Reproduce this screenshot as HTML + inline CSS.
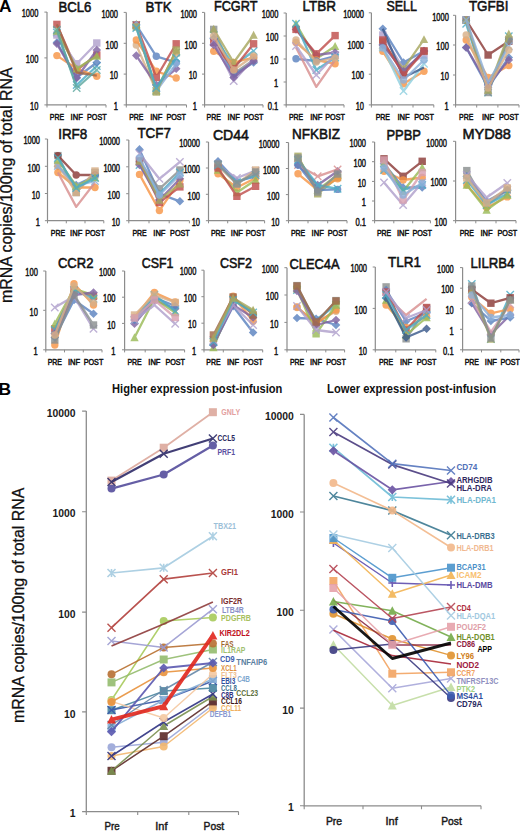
<!DOCTYPE html>
<html><head><meta charset="utf-8"><title>Figure</title><style>
html,body{margin:0;padding:0;background:#fff;}
body{width:520px;height:831px;overflow:hidden;}
svg{display:block;font-family:"Liberation Sans", sans-serif;}
</style></head><body>
<svg width="520" height="831" viewBox="0 0 520 831">
<defs><filter id="bl" filterUnits="userSpaceOnUse" x="0" y="0" width="520" height="831"><feGaussianBlur stdDeviation="0.65"/></filter></defs>
<rect width="520" height="831" fill="#fff"/>
<text x="-0.9" y="11.8" font-size="17.4" font-weight="bold" fill="#000">A</text>
<text x="-1.5" y="394.5" font-size="17.4" font-weight="bold" fill="#000">B</text>
<text transform="translate(12.3 303.0) rotate(-90)" font-size="15.6" fill="#111" stroke="#111" stroke-width="0.3" textLength="235.6" lengthAdjust="spacingAndGlyphs">mRNA copies/100ng of total RNA</text>
<text transform="translate(23.6 723.0) rotate(-90)" font-size="15.8" fill="#111" stroke="#111" stroke-width="0.3" textLength="235.4" lengthAdjust="spacingAndGlyphs">mRNA copies/100ng of total RNA</text>
<path d="M47.0 12.1V104.9H106.0" fill="none" stroke="#8c8c8c" stroke-width="1.2"/>
<path d="M44.4 12.1H47.0M44.4 57.9H47.0M44.4 104.9H47.0M47.0 104.9V107.5M66.3 104.9V107.5M86.2 104.9V107.5M106.0 104.9V107.5" fill="none" stroke="#8c8c8c" stroke-width="1"/>
<text x="38.3" y="17.3" font-size="10.0" text-anchor="end" fill="#111" textLength="16.6" lengthAdjust="spacingAndGlyphs" stroke="#111" stroke-width="0.45">1000</text>
<text x="38.3" y="63.1" font-size="10.0" text-anchor="end" fill="#111" textLength="12.5" lengthAdjust="spacingAndGlyphs" stroke="#111" stroke-width="0.45">100</text>
<text x="38.3" y="110.1" font-size="10.0" text-anchor="end" fill="#111" textLength="8.3" lengthAdjust="spacingAndGlyphs" stroke="#111" stroke-width="0.45">10</text>
<text x="58.4" y="11.9" font-size="14.6" fill="#111" textLength="33.0" lengthAdjust="spacingAndGlyphs" stroke="#111" stroke-width="0.55">BCL6</text>
<text x="56.9" y="120.2" font-size="8.9" text-anchor="middle" fill="#111" textLength="14.2" lengthAdjust="spacingAndGlyphs" stroke="#111" stroke-width="0.5">PRE</text>
<text x="76.7" y="120.2" font-size="8.9" text-anchor="middle" fill="#111" textLength="12.2" lengthAdjust="spacingAndGlyphs" stroke="#111" stroke-width="0.5">INF</text>
<text x="96.8" y="120.2" font-size="8.9" text-anchor="middle" fill="#111" textLength="19.6" lengthAdjust="spacingAndGlyphs" stroke="#111" stroke-width="0.5">POST</text>
<g opacity="0.82" filter="url(#bl)">
<polyline points="56.9,24.4 76.7,70.0 96.8,55.0" fill="none" stroke="#c0504d" stroke-width="2.3" stroke-linejoin="round"/>
<rect x="53.2" y="20.7" width="7.4" height="7.4" fill="#c0504d"/>
<rect x="73.0" y="66.3" width="7.4" height="7.4" fill="#c0504d"/>
<rect x="93.1" y="51.3" width="7.4" height="7.4" fill="#c0504d"/>
</g>
<g opacity="0.82" filter="url(#bl)">
<polyline points="56.9,32.5 76.7,85.0 96.8,66.0" fill="none" stroke="#4bacc6" stroke-width="2.3" stroke-linejoin="round"/>
<path d="M53.2 28.8L60.6 36.2M60.6 28.8L53.2 36.2" stroke="#4bacc6" stroke-width="1.4" fill="none"/>
<path d="M73.0 81.3L80.4 88.7M80.4 81.3L73.0 88.7" stroke="#4bacc6" stroke-width="1.4" fill="none"/>
<path d="M93.1 62.3L100.5 69.7M100.5 62.3L93.1 69.7" stroke="#4bacc6" stroke-width="1.4" fill="none"/>
</g>
<g opacity="0.82" filter="url(#bl)">
<polyline points="56.9,42.5 76.7,77.5 96.8,62.5" fill="none" stroke="#5b83c0" stroke-width="2.3" stroke-linejoin="round"/>
<path d="M56.9 38.2L61.2 42.5L56.9 46.8L52.6 42.5Z" fill="#5b83c0"/>
<path d="M76.7 73.2L81.0 77.5L76.7 81.8L72.4 77.5Z" fill="#5b83c0"/>
<path d="M96.8 58.2L101.1 62.5L96.8 66.8L92.5 62.5Z" fill="#5b83c0"/>
</g>
<g opacity="0.82" filter="url(#bl)">
<polyline points="56.9,55.6 76.7,68.8 96.8,76.2" fill="none" stroke="#f79646" stroke-width="2.3" stroke-linejoin="round"/>
<circle cx="56.9" cy="55.6" r="3.7" fill="#f79646"/>
<circle cx="76.7" cy="68.8" r="3.7" fill="#f79646"/>
<circle cx="96.8" cy="76.2" r="3.7" fill="#f79646"/>
</g>
<g opacity="0.82" filter="url(#bl)">
<polyline points="56.9,35.0 76.7,63.8 96.8,43.0" fill="none" stroke="#b0a0cc" stroke-width="2.3" stroke-linejoin="round"/>
<rect x="53.2" y="31.3" width="7.4" height="7.4" fill="#b0a0cc"/>
<rect x="73.0" y="60.1" width="7.4" height="7.4" fill="#b0a0cc"/>
<rect x="93.1" y="39.3" width="7.4" height="7.4" fill="#b0a0cc"/>
</g>
<g opacity="0.82" filter="url(#bl)">
<polyline points="56.9,43.8 76.7,78.0 96.8,50.0" fill="none" stroke="#8064a2" stroke-width="2.3" stroke-linejoin="round"/>
<path d="M56.9 39.5L61.2 43.8L56.9 48.1L52.6 43.8Z" fill="#8064a2"/>
<path d="M76.7 73.7L81.0 78.0L76.7 82.3L72.4 78.0Z" fill="#8064a2"/>
<path d="M96.8 45.7L101.1 50.0L96.8 54.3L92.5 50.0Z" fill="#8064a2"/>
</g>
<g opacity="0.82" filter="url(#bl)">
<polyline points="56.9,31.0 76.7,68.8 96.8,56.0" fill="none" stroke="#9bbb59" stroke-width="2.3" stroke-linejoin="round"/>
<path d="M56.9 26.8L61.1 34.7L52.7 34.7Z" fill="#9bbb59"/>
<path d="M76.7 64.6L80.9 72.5L72.5 72.5Z" fill="#9bbb59"/>
<path d="M96.8 51.8L101.0 59.7L92.6 59.7Z" fill="#9bbb59"/>
</g>
<g opacity="0.82" filter="url(#bl)">
<polyline points="56.9,24.4 76.7,72.5 96.8,75.6" fill="none" stroke="#a06848" stroke-width="2.3" stroke-linejoin="round"/>
</g>
<g opacity="0.82" filter="url(#bl)">
<polyline points="56.9,30.0 76.7,88.0 96.8,70.0" fill="none" stroke="#5ea8a0" stroke-width="2.3" stroke-linejoin="round"/>
<path d="M53.2 26.3L60.6 33.7M60.6 26.3L53.2 33.7" stroke="#5ea8a0" stroke-width="1.4" fill="none"/>
<path d="M73.0 84.3L80.4 91.7M80.4 84.3L73.0 91.7" stroke="#5ea8a0" stroke-width="1.4" fill="none"/>
<path d="M93.1 66.3L100.5 73.7M100.5 66.3L93.1 73.7" stroke="#5ea8a0" stroke-width="1.4" fill="none"/>
</g>
<path d="M126.3 12.4V104.9H186.5" fill="none" stroke="#8c8c8c" stroke-width="1.2"/>
<path d="M123.7 12.4H126.3M123.7 43.3H126.3M123.7 74.1H126.3M123.7 104.9H126.3M126.3 104.9V107.5M146.2 104.9V107.5M166.3 104.9V107.5M186.5 104.9V107.5" fill="none" stroke="#8c8c8c" stroke-width="1"/>
<text x="118.0" y="17.6" font-size="10.0" text-anchor="end" fill="#111" textLength="16.6" lengthAdjust="spacingAndGlyphs" stroke="#111" stroke-width="0.45">1000</text>
<text x="118.0" y="48.5" font-size="10.0" text-anchor="end" fill="#111" textLength="12.5" lengthAdjust="spacingAndGlyphs" stroke="#111" stroke-width="0.45">100</text>
<text x="118.0" y="79.3" font-size="10.0" text-anchor="end" fill="#111" textLength="8.3" lengthAdjust="spacingAndGlyphs" stroke="#111" stroke-width="0.45">10</text>
<text x="118.0" y="110.1" font-size="10.0" text-anchor="end" fill="#111" textLength="4.2" lengthAdjust="spacingAndGlyphs" stroke="#111" stroke-width="0.45">1</text>
<text x="145.6" y="12.2" font-size="14.6" fill="#111" textLength="26.0" lengthAdjust="spacingAndGlyphs" stroke="#111" stroke-width="0.55">BTK</text>
<text x="136.3" y="120.2" font-size="8.9" text-anchor="middle" fill="#111" textLength="14.2" lengthAdjust="spacingAndGlyphs" stroke="#111" stroke-width="0.5">PRE</text>
<text x="156.3" y="120.2" font-size="8.9" text-anchor="middle" fill="#111" textLength="12.2" lengthAdjust="spacingAndGlyphs" stroke="#111" stroke-width="0.5">INF</text>
<text x="176.2" y="120.2" font-size="8.9" text-anchor="middle" fill="#111" textLength="19.6" lengthAdjust="spacingAndGlyphs" stroke="#111" stroke-width="0.5">POST</text>
<g opacity="0.82" filter="url(#bl)">
<polyline points="136.3,25.0 156.3,91.0 176.2,52.5" fill="none" stroke="#5ea8a0" stroke-width="2.3" stroke-linejoin="round"/>
<path d="M132.6 21.3L140.0 28.7M140.0 21.3L132.6 28.7" stroke="#5ea8a0" stroke-width="1.4" fill="none"/>
<path d="M152.6 87.3L160.0 94.7M160.0 87.3L152.6 94.7" stroke="#5ea8a0" stroke-width="1.4" fill="none"/>
<path d="M172.5 48.8L179.9 56.2M179.9 48.8L172.5 56.2" stroke="#5ea8a0" stroke-width="1.4" fill="none"/>
</g>
<g opacity="0.82" filter="url(#bl)">
<polyline points="136.3,24.0 156.3,90.0 176.2,51.0" fill="none" stroke="#9bbb59" stroke-width="2.3" stroke-linejoin="round"/>
<path d="M136.3 19.8L140.5 27.7L132.1 27.7Z" fill="#9bbb59"/>
<path d="M156.3 85.8L160.5 93.7L152.1 93.7Z" fill="#9bbb59"/>
<path d="M176.2 46.8L180.4 54.7L172.0 54.7Z" fill="#9bbb59"/>
</g>
<g opacity="0.82" filter="url(#bl)">
<polyline points="136.3,45.0 156.3,91.0 176.2,53.8" fill="none" stroke="#d8b088" stroke-width="2.3" stroke-linejoin="round"/>
<circle cx="136.3" cy="45.0" r="3.7" fill="#d8b088"/>
<circle cx="156.3" cy="91.0" r="3.7" fill="#d8b088"/>
<circle cx="176.2" cy="53.8" r="3.7" fill="#d8b088"/>
</g>
<g opacity="0.82" filter="url(#bl)">
<polyline points="136.3,55.6 156.3,85.0 176.2,68.8" fill="none" stroke="#8064a2" stroke-width="2.3" stroke-linejoin="round"/>
<path d="M136.3 51.3L140.6 55.6L136.3 59.9L132.0 55.6Z" fill="#8064a2"/>
<path d="M156.3 80.7L160.6 85.0L156.3 89.3L152.0 85.0Z" fill="#8064a2"/>
<path d="M176.2 64.5L180.5 68.8L176.2 73.1L171.9 68.8Z" fill="#8064a2"/>
</g>
<g opacity="0.82" filter="url(#bl)">
<polyline points="136.3,25.0 156.3,56.3 176.2,62.5" fill="none" stroke="#5b83c0" stroke-width="2.3" stroke-linejoin="round"/>
<circle cx="136.3" cy="25.0" r="3.7" fill="#5b83c0"/>
<circle cx="156.3" cy="56.3" r="3.7" fill="#5b83c0"/>
<circle cx="176.2" cy="62.5" r="3.7" fill="#5b83c0"/>
</g>
<g opacity="0.82" filter="url(#bl)">
<polyline points="136.3,40.0 156.3,71.3 176.2,78.0" fill="none" stroke="#f79646" stroke-width="2.3" stroke-linejoin="round"/>
<circle cx="136.3" cy="40.0" r="3.7" fill="#f79646"/>
<circle cx="156.3" cy="71.3" r="3.7" fill="#f79646"/>
<circle cx="176.2" cy="78.0" r="3.7" fill="#f79646"/>
</g>
<g opacity="0.82" filter="url(#bl)">
<polyline points="136.3,25.0 156.3,77.5 176.2,43.8" fill="none" stroke="#c0504d" stroke-width="2.3" stroke-linejoin="round"/>
<rect x="132.6" y="21.3" width="7.4" height="7.4" fill="#c0504d"/>
<rect x="152.6" y="73.8" width="7.4" height="7.4" fill="#c0504d"/>
<rect x="172.5" y="40.1" width="7.4" height="7.4" fill="#c0504d"/>
</g>
<g opacity="0.82" filter="url(#bl)">
<polyline points="136.3,25.0 156.3,91.0 176.2,63.8" fill="none" stroke="#8db0da" stroke-width="2.3" stroke-linejoin="round"/>
<path d="M136.3 20.7L140.6 25.0L136.3 29.3L132.0 25.0Z" fill="#8db0da"/>
<path d="M156.3 86.7L160.6 91.0L156.3 95.3L152.0 91.0Z" fill="#8db0da"/>
<path d="M176.2 59.5L180.5 63.8L176.2 68.1L171.9 63.8Z" fill="#8db0da"/>
</g>
<g opacity="0.82" filter="url(#bl)">
<polyline points="136.3,27.0 156.3,92.0 176.2,50.0" fill="none" stroke="#a8a860" stroke-width="2.3" stroke-linejoin="round"/>
<rect x="132.6" y="23.3" width="7.4" height="7.4" fill="#a8a860"/>
<rect x="152.6" y="88.3" width="7.4" height="7.4" fill="#a8a860"/>
<rect x="172.5" y="46.3" width="7.4" height="7.4" fill="#a8a860"/>
</g>
<g opacity="0.82" filter="url(#bl)">
<polyline points="136.3,28.0 156.3,88.0 176.2,58.0" fill="none" stroke="#4bacc6" stroke-width="2.3" stroke-linejoin="round"/>
<path d="M132.6 24.3L140.0 31.7M140.0 24.3L132.6 31.7" stroke="#4bacc6" stroke-width="1.4" fill="none"/>
<path d="M152.6 84.3L160.0 91.7M160.0 84.3L152.6 91.7" stroke="#4bacc6" stroke-width="1.4" fill="none"/>
<path d="M172.5 54.3L179.9 61.7M179.9 54.3L172.5 61.7" stroke="#4bacc6" stroke-width="1.4" fill="none"/>
</g>
<path d="M204.6 12.4V104.9H263.0" fill="none" stroke="#8c8c8c" stroke-width="1.2"/>
<path d="M202.0 12.4H204.6M202.0 43.3H204.6M202.0 74.1H204.6M202.0 104.9H204.6M204.6 104.9V107.5M224.6 104.9V107.5M244.4 104.9V107.5M263.0 104.9V107.5" fill="none" stroke="#8c8c8c" stroke-width="1"/>
<text x="197.0" y="17.6" font-size="10.0" text-anchor="end" fill="#111" textLength="16.6" lengthAdjust="spacingAndGlyphs" stroke="#111" stroke-width="0.45">1000</text>
<text x="197.0" y="48.5" font-size="10.0" text-anchor="end" fill="#111" textLength="12.5" lengthAdjust="spacingAndGlyphs" stroke="#111" stroke-width="0.45">100</text>
<text x="197.0" y="79.3" font-size="10.0" text-anchor="end" fill="#111" textLength="8.3" lengthAdjust="spacingAndGlyphs" stroke="#111" stroke-width="0.45">10</text>
<text x="197.0" y="110.1" font-size="10.0" text-anchor="end" fill="#111" textLength="4.2" lengthAdjust="spacingAndGlyphs" stroke="#111" stroke-width="0.45">1</text>
<text x="213.9" y="10.9" font-size="14.6" fill="#111" textLength="43.5" lengthAdjust="spacingAndGlyphs" stroke="#111" stroke-width="0.55">FCGRT</text>
<text x="213.7" y="120.2" font-size="8.9" text-anchor="middle" fill="#111" textLength="14.2" lengthAdjust="spacingAndGlyphs" stroke="#111" stroke-width="0.5">PRE</text>
<text x="233.7" y="120.2" font-size="8.9" text-anchor="middle" fill="#111" textLength="12.2" lengthAdjust="spacingAndGlyphs" stroke="#111" stroke-width="0.5">INF</text>
<text x="253.6" y="120.2" font-size="8.9" text-anchor="middle" fill="#111" textLength="19.6" lengthAdjust="spacingAndGlyphs" stroke="#111" stroke-width="0.5">POST</text>
<g opacity="0.82" filter="url(#bl)">
<polyline points="213.7,29.4 233.7,73.8 253.6,60.0" fill="none" stroke="#8a9090" stroke-width="2.3" stroke-linejoin="round"/>
<rect x="210.0" y="25.7" width="7.4" height="7.4" fill="#8a9090"/>
<rect x="230.0" y="70.1" width="7.4" height="7.4" fill="#8a9090"/>
<rect x="249.9" y="56.3" width="7.4" height="7.4" fill="#8a9090"/>
</g>
<g opacity="0.82" filter="url(#bl)">
<polyline points="213.7,35.0 233.7,66.0 253.6,51.0" fill="none" stroke="#4bacc6" stroke-width="2.3" stroke-linejoin="round"/>
<path d="M210.0 31.3L217.4 38.7M217.4 31.3L210.0 38.7" stroke="#4bacc6" stroke-width="1.4" fill="none"/>
<path d="M230.0 62.3L237.4 69.7M237.4 62.3L230.0 69.7" stroke="#4bacc6" stroke-width="1.4" fill="none"/>
<path d="M249.9 47.3L257.3 54.7M257.3 47.3L249.9 54.7" stroke="#4bacc6" stroke-width="1.4" fill="none"/>
</g>
<g opacity="0.82" filter="url(#bl)">
<polyline points="213.7,38.8 233.7,75.0 253.6,62.5" fill="none" stroke="#5b83c0" stroke-width="2.3" stroke-linejoin="round"/>
<path d="M213.7 34.5L218.0 38.8L213.7 43.1L209.4 38.8Z" fill="#5b83c0"/>
<path d="M233.7 70.7L238.0 75.0L233.7 79.3L229.4 75.0Z" fill="#5b83c0"/>
<path d="M253.6 58.2L257.9 62.5L253.6 66.8L249.3 62.5Z" fill="#5b83c0"/>
</g>
<g opacity="0.82" filter="url(#bl)">
<polyline points="213.7,51.3 233.7,62.5 253.6,57.5" fill="none" stroke="#f79646" stroke-width="2.3" stroke-linejoin="round"/>
<circle cx="213.7" cy="51.3" r="3.7" fill="#f79646"/>
<circle cx="233.7" cy="62.5" r="3.7" fill="#f79646"/>
<circle cx="253.6" cy="57.5" r="3.7" fill="#f79646"/>
</g>
<g opacity="0.82" filter="url(#bl)">
<polyline points="213.7,29.0 233.7,62.5 253.6,35.0" fill="none" stroke="#a8a860" stroke-width="2.3" stroke-linejoin="round"/>
<path d="M213.7 24.8L217.9 32.7L209.5 32.7Z" fill="#a8a860"/>
<path d="M233.7 58.3L237.9 66.2L229.5 66.2Z" fill="#a8a860"/>
<path d="M253.6 30.8L257.8 38.7L249.4 38.7Z" fill="#a8a860"/>
</g>
<g opacity="0.82" filter="url(#bl)">
<polyline points="213.7,42.5 233.7,68.8 253.6,43.8" fill="none" stroke="#c0504d" stroke-width="2.3" stroke-linejoin="round"/>
<rect x="210.0" y="38.8" width="7.4" height="7.4" fill="#c0504d"/>
<rect x="230.0" y="65.1" width="7.4" height="7.4" fill="#c0504d"/>
<rect x="249.9" y="40.1" width="7.4" height="7.4" fill="#c0504d"/>
</g>
<g opacity="0.82" filter="url(#bl)">
<polyline points="213.7,41.0 233.7,81.0 253.6,58.8" fill="none" stroke="#b0a0cc" stroke-width="2.3" stroke-linejoin="round"/>
<path d="M210.0 37.3L217.4 44.7M217.4 37.3L210.0 44.7" stroke="#b0a0cc" stroke-width="1.4" fill="none"/>
<path d="M230.0 77.3L237.4 84.7M237.4 77.3L230.0 84.7" stroke="#b0a0cc" stroke-width="1.4" fill="none"/>
<path d="M249.9 55.1L257.3 62.5M257.3 55.1L249.9 62.5" stroke="#b0a0cc" stroke-width="1.4" fill="none"/>
</g>
<g opacity="0.82" filter="url(#bl)">
<polyline points="213.7,45.0 233.7,77.5 253.6,61.0" fill="none" stroke="#8064a2" stroke-width="2.3" stroke-linejoin="round"/>
<path d="M213.7 40.7L218.0 45.0L213.7 49.3L209.4 45.0Z" fill="#8064a2"/>
<path d="M233.7 73.2L238.0 77.5L233.7 81.8L229.4 77.5Z" fill="#8064a2"/>
<path d="M253.6 56.7L257.9 61.0L253.6 65.3L249.3 61.0Z" fill="#8064a2"/>
</g>
<g opacity="0.82" filter="url(#bl)">
<polyline points="213.7,36.0 233.7,70.0 253.6,56.0" fill="none" stroke="#d8b088" stroke-width="2.3" stroke-linejoin="round"/>
<circle cx="213.7" cy="36.0" r="3.7" fill="#d8b088"/>
<circle cx="233.7" cy="70.0" r="3.7" fill="#d8b088"/>
<circle cx="253.6" cy="56.0" r="3.7" fill="#d8b088"/>
</g>
<path d="M286.2 13.0V104.9H344.0" fill="none" stroke="#8c8c8c" stroke-width="1.2"/>
<path d="M283.6 13.0H286.2M283.6 36.0H286.2M283.6 59.0H286.2M283.6 82.0H286.2M283.6 104.9H286.2M286.2 104.9V107.5M305.8 104.9V107.5M325.0 104.9V107.5M344.0 104.9V107.5" fill="none" stroke="#8c8c8c" stroke-width="1"/>
<text x="278.3" y="18.2" font-size="10.0" text-anchor="end" fill="#111" textLength="16.6" lengthAdjust="spacingAndGlyphs" stroke="#111" stroke-width="0.45">1000</text>
<text x="278.3" y="41.2" font-size="10.0" text-anchor="end" fill="#111" textLength="12.5" lengthAdjust="spacingAndGlyphs" stroke="#111" stroke-width="0.45">100</text>
<text x="278.3" y="64.2" font-size="10.0" text-anchor="end" fill="#111" textLength="8.3" lengthAdjust="spacingAndGlyphs" stroke="#111" stroke-width="0.45">10</text>
<text x="278.3" y="87.2" font-size="10.0" text-anchor="end" fill="#111" textLength="4.2" lengthAdjust="spacingAndGlyphs" stroke="#111" stroke-width="0.45">1</text>
<text x="278.3" y="110.1" font-size="10.0" text-anchor="end" fill="#111" textLength="10.6" lengthAdjust="spacingAndGlyphs" stroke="#111" stroke-width="0.45">0.1</text>
<text x="302.4" y="10.9" font-size="14.6" fill="#111" textLength="33.5" lengthAdjust="spacingAndGlyphs" stroke="#111" stroke-width="0.55">LTBR</text>
<text x="296.0" y="120.2" font-size="8.9" text-anchor="middle" fill="#111" textLength="14.2" lengthAdjust="spacingAndGlyphs" stroke="#111" stroke-width="0.5">PRE</text>
<text x="316.3" y="120.2" font-size="8.9" text-anchor="middle" fill="#111" textLength="12.2" lengthAdjust="spacingAndGlyphs" stroke="#111" stroke-width="0.5">INF</text>
<text x="335.1" y="120.2" font-size="8.9" text-anchor="middle" fill="#111" textLength="19.6" lengthAdjust="spacingAndGlyphs" stroke="#111" stroke-width="0.5">POST</text>
<g opacity="0.82" filter="url(#bl)">
<polyline points="296.0,23.8 316.3,58.8 335.1,46.3" fill="none" stroke="#9bbb59" stroke-width="2.3" stroke-linejoin="round"/>
<path d="M296.0 19.6L300.2 27.5L291.8 27.5Z" fill="#9bbb59"/>
<path d="M316.3 54.6L320.5 62.5L312.1 62.5Z" fill="#9bbb59"/>
<path d="M335.1 42.1L339.3 50.0L330.9 50.0Z" fill="#9bbb59"/>
</g>
<g opacity="0.82" filter="url(#bl)">
<polyline points="296.0,29.4 316.3,55.0 335.1,52.5" fill="none" stroke="#8064a2" stroke-width="2.3" stroke-linejoin="round"/>
<path d="M296.0 25.1L300.3 29.4L296.0 33.7L291.7 29.4Z" fill="#8064a2"/>
<path d="M316.3 50.7L320.6 55.0L316.3 59.3L312.0 55.0Z" fill="#8064a2"/>
<path d="M335.1 48.2L339.4 52.5L335.1 56.8L330.8 52.5Z" fill="#8064a2"/>
</g>
<g opacity="0.82" filter="url(#bl)">
<polyline points="296.0,29.4 316.3,53.8 335.1,35.6" fill="none" stroke="#c0504d" stroke-width="2.3" stroke-linejoin="round"/>
<rect x="292.3" y="25.7" width="7.4" height="7.4" fill="#c0504d"/>
<rect x="312.6" y="50.1" width="7.4" height="7.4" fill="#c0504d"/>
<rect x="331.4" y="31.9" width="7.4" height="7.4" fill="#c0504d"/>
</g>
<g opacity="0.82" filter="url(#bl)">
<polyline points="296.0,42.5 316.3,60.0 335.1,63.8" fill="none" stroke="#f79646" stroke-width="2.3" stroke-linejoin="round"/>
<circle cx="296.0" cy="42.5" r="3.7" fill="#f79646"/>
<circle cx="316.3" cy="60.0" r="3.7" fill="#f79646"/>
<circle cx="335.1" cy="63.8" r="3.7" fill="#f79646"/>
</g>
<g opacity="0.82" filter="url(#bl)">
<polyline points="296.0,58.8 316.3,61.0 335.1,56.0" fill="none" stroke="#5b83c0" stroke-width="2.3" stroke-linejoin="round"/>
<circle cx="296.0" cy="58.8" r="3.7" fill="#5b83c0"/>
<circle cx="316.3" cy="61.0" r="3.7" fill="#5b83c0"/>
<circle cx="335.1" cy="56.0" r="3.7" fill="#5b83c0"/>
</g>
<g opacity="0.82" filter="url(#bl)">
<polyline points="296.0,47.5 316.3,86.9 335.1,60.0" fill="none" stroke="#d89090" stroke-width="2.3" stroke-linejoin="round"/>
</g>
<g opacity="0.82" filter="url(#bl)">
<polyline points="296.0,23.8 316.3,70.0 335.1,57.5" fill="none" stroke="#4bacc6" stroke-width="2.3" stroke-linejoin="round"/>
<path d="M292.3 20.1L299.7 27.5M299.7 20.1L292.3 27.5" stroke="#4bacc6" stroke-width="1.4" fill="none"/>
<path d="M312.6 66.3L320.0 73.7M320.0 66.3L312.6 73.7" stroke="#4bacc6" stroke-width="1.4" fill="none"/>
<path d="M331.4 53.8L338.8 61.2M338.8 53.8L331.4 61.2" stroke="#4bacc6" stroke-width="1.4" fill="none"/>
</g>
<g opacity="0.82" filter="url(#bl)">
<polyline points="296.0,46.0 316.3,75.0 335.1,55.0" fill="none" stroke="#b0a0cc" stroke-width="2.3" stroke-linejoin="round"/>
<path d="M292.3 42.3L299.7 49.7M299.7 42.3L292.3 49.7" stroke="#b0a0cc" stroke-width="1.4" fill="none"/>
<path d="M312.6 71.3L320.0 78.7M320.0 71.3L312.6 78.7" stroke="#b0a0cc" stroke-width="1.4" fill="none"/>
<path d="M331.4 51.3L338.8 58.7M338.8 51.3L331.4 58.7" stroke="#b0a0cc" stroke-width="1.4" fill="none"/>
</g>
<g opacity="0.82" filter="url(#bl)">
<polyline points="296.0,40.0 316.3,62.0 335.1,58.0" fill="none" stroke="#d8b088" stroke-width="2.3" stroke-linejoin="round"/>
<circle cx="296.0" cy="40.0" r="3.7" fill="#d8b088"/>
<circle cx="316.3" cy="62.0" r="3.7" fill="#d8b088"/>
<circle cx="335.1" cy="58.0" r="3.7" fill="#d8b088"/>
</g>
<path d="M371.4 12.8V104.9H433.8" fill="none" stroke="#8c8c8c" stroke-width="1.2"/>
<path d="M368.8 12.8H371.4M368.8 43.5H371.4M368.8 74.2H371.4M368.8 104.9H371.4M371.4 104.9V107.5M392.0 104.9V107.5M413.0 104.9V107.5M433.8 104.9V107.5" fill="none" stroke="#8c8c8c" stroke-width="1"/>
<text x="364.0" y="18.0" font-size="10.0" text-anchor="end" fill="#111" textLength="20.8" lengthAdjust="spacingAndGlyphs" stroke="#111" stroke-width="0.45">10000</text>
<text x="364.0" y="48.7" font-size="10.0" text-anchor="end" fill="#111" textLength="16.6" lengthAdjust="spacingAndGlyphs" stroke="#111" stroke-width="0.45">1000</text>
<text x="364.0" y="79.4" font-size="10.0" text-anchor="end" fill="#111" textLength="12.5" lengthAdjust="spacingAndGlyphs" stroke="#111" stroke-width="0.45">100</text>
<text x="364.0" y="110.1" font-size="10.0" text-anchor="end" fill="#111" textLength="8.3" lengthAdjust="spacingAndGlyphs" stroke="#111" stroke-width="0.45">10</text>
<text x="386.4" y="10.9" font-size="14.6" fill="#111" textLength="30.5" lengthAdjust="spacingAndGlyphs" stroke="#111" stroke-width="0.55">SELL</text>
<text x="382.8" y="120.2" font-size="8.9" text-anchor="middle" fill="#111" textLength="14.2" lengthAdjust="spacingAndGlyphs" stroke="#111" stroke-width="0.5">PRE</text>
<text x="403.5" y="120.2" font-size="8.9" text-anchor="middle" fill="#111" textLength="12.2" lengthAdjust="spacingAndGlyphs" stroke="#111" stroke-width="0.5">INF</text>
<text x="424.0" y="120.2" font-size="8.9" text-anchor="middle" fill="#111" textLength="19.6" lengthAdjust="spacingAndGlyphs" stroke="#111" stroke-width="0.5">POST</text>
<g opacity="0.82" filter="url(#bl)">
<polyline points="382.8,28.8 403.5,62.5 424.0,51.0" fill="none" stroke="#5b83c0" stroke-width="2.3" stroke-linejoin="round"/>
<path d="M382.8 24.5L387.1 28.8L382.8 33.1L378.5 28.8Z" fill="#5b83c0"/>
<path d="M403.5 58.2L407.8 62.5L403.5 66.8L399.2 62.5Z" fill="#5b83c0"/>
<path d="M424.0 46.7L428.3 51.0L424.0 55.3L419.7 51.0Z" fill="#5b83c0"/>
</g>
<g opacity="0.82" filter="url(#bl)">
<polyline points="382.8,35.0 403.5,68.8 424.0,55.0" fill="none" stroke="#b0a0cc" stroke-width="2.3" stroke-linejoin="round"/>
<rect x="379.1" y="31.3" width="7.4" height="7.4" fill="#b0a0cc"/>
<rect x="399.8" y="65.1" width="7.4" height="7.4" fill="#b0a0cc"/>
<rect x="420.3" y="51.3" width="7.4" height="7.4" fill="#b0a0cc"/>
</g>
<g opacity="0.82" filter="url(#bl)">
<polyline points="382.8,42.0 403.5,72.5 424.0,51.0" fill="none" stroke="#a06848" stroke-width="2.3" stroke-linejoin="round"/>
<rect x="379.1" y="38.3" width="7.4" height="7.4" fill="#a06848"/>
<rect x="399.8" y="68.8" width="7.4" height="7.4" fill="#a06848"/>
<rect x="420.3" y="47.3" width="7.4" height="7.4" fill="#a06848"/>
</g>
<g opacity="0.82" filter="url(#bl)">
<polyline points="382.8,45.0 403.5,68.8 424.0,39.4" fill="none" stroke="#a8a860" stroke-width="2.3" stroke-linejoin="round"/>
<path d="M382.8 40.8L387.0 48.7L378.6 48.7Z" fill="#a8a860"/>
<path d="M403.5 64.6L407.7 72.5L399.3 72.5Z" fill="#a8a860"/>
<path d="M424.0 35.2L428.2 43.1L419.8 43.1Z" fill="#a8a860"/>
</g>
<g opacity="0.82" filter="url(#bl)">
<polyline points="382.8,51.3 403.5,83.8 424.0,71.3" fill="none" stroke="#f79646" stroke-width="2.3" stroke-linejoin="round"/>
<circle cx="382.8" cy="51.3" r="3.7" fill="#f79646"/>
<circle cx="403.5" cy="83.8" r="3.7" fill="#f79646"/>
<circle cx="424.0" cy="71.3" r="3.7" fill="#f79646"/>
</g>
<g opacity="0.82" filter="url(#bl)">
<polyline points="382.8,47.5 403.5,91.0 424.0,63.8" fill="none" stroke="#90d0e0" stroke-width="2.3" stroke-linejoin="round"/>
<path d="M379.1 43.8L386.5 51.2M386.5 43.8L379.1 51.2" stroke="#90d0e0" stroke-width="1.4" fill="none"/>
<path d="M399.8 87.3L407.2 94.7M407.2 87.3L399.8 94.7" stroke="#90d0e0" stroke-width="1.4" fill="none"/>
<path d="M420.3 60.1L427.7 67.5M427.7 60.1L420.3 67.5" stroke="#90d0e0" stroke-width="1.4" fill="none"/>
</g>
<g opacity="0.82" filter="url(#bl)">
<polyline points="382.8,28.8 403.5,77.5 424.0,67.5" fill="none" stroke="#3a5a8c" stroke-width="2.3" stroke-linejoin="round"/>
</g>
<g opacity="0.82" filter="url(#bl)">
<polyline points="382.8,45.0 403.5,71.3 424.0,51.0" fill="none" stroke="#8064a2" stroke-width="2.3" stroke-linejoin="round"/>
<path d="M382.8 40.7L387.1 45.0L382.8 49.3L378.5 45.0Z" fill="#8064a2"/>
<path d="M403.5 67.0L407.8 71.3L403.5 75.6L399.2 71.3Z" fill="#8064a2"/>
<path d="M424.0 46.7L428.3 51.0L424.0 55.3L419.7 51.0Z" fill="#8064a2"/>
</g>
<g opacity="0.82" filter="url(#bl)">
<polyline points="382.8,40.0 403.5,75.0 424.0,51.0" fill="none" stroke="#c0504d" stroke-width="2.3" stroke-linejoin="round"/>
<rect x="379.1" y="36.3" width="7.4" height="7.4" fill="#c0504d"/>
<rect x="399.8" y="71.3" width="7.4" height="7.4" fill="#c0504d"/>
<rect x="420.3" y="47.3" width="7.4" height="7.4" fill="#c0504d"/>
</g>
<g opacity="0.82" filter="url(#bl)">
<polyline points="382.8,48.0 403.5,80.0 424.0,60.0" fill="none" stroke="#8db0da" stroke-width="2.3" stroke-linejoin="round"/>
<circle cx="382.8" cy="48.0" r="3.7" fill="#8db0da"/>
<circle cx="403.5" cy="80.0" r="3.7" fill="#8db0da"/>
<circle cx="424.0" cy="60.0" r="3.7" fill="#8db0da"/>
</g>
<path d="M455.6 15.3V104.9H519.0" fill="none" stroke="#8c8c8c" stroke-width="1.2"/>
<path d="M453.0 15.3H455.6M453.0 45.0H455.6M453.0 75.0H455.6M453.0 104.9H455.6M455.6 104.9V107.5M476.7 104.9V107.5M497.9 104.9V107.5M519.0 104.9V107.5" fill="none" stroke="#8c8c8c" stroke-width="1"/>
<text x="448.8" y="20.5" font-size="10.0" text-anchor="end" fill="#111" textLength="16.6" lengthAdjust="spacingAndGlyphs" stroke="#111" stroke-width="0.45">1000</text>
<text x="448.8" y="50.2" font-size="10.0" text-anchor="end" fill="#111" textLength="12.5" lengthAdjust="spacingAndGlyphs" stroke="#111" stroke-width="0.45">100</text>
<text x="448.8" y="80.2" font-size="10.0" text-anchor="end" fill="#111" textLength="8.3" lengthAdjust="spacingAndGlyphs" stroke="#111" stroke-width="0.45">10</text>
<text x="448.8" y="110.1" font-size="10.0" text-anchor="end" fill="#111" textLength="4.2" lengthAdjust="spacingAndGlyphs" stroke="#111" stroke-width="0.45">1</text>
<text x="468.9" y="10.9" font-size="14.6" fill="#111" textLength="39.5" lengthAdjust="spacingAndGlyphs" stroke="#111" stroke-width="0.55">TGFBI</text>
<text x="466.2" y="120.2" font-size="8.9" text-anchor="middle" fill="#111" textLength="14.2" lengthAdjust="spacingAndGlyphs" stroke="#111" stroke-width="0.5">PRE</text>
<text x="488.1" y="120.2" font-size="8.9" text-anchor="middle" fill="#111" textLength="12.2" lengthAdjust="spacingAndGlyphs" stroke="#111" stroke-width="0.5">INF</text>
<text x="508.8" y="120.2" font-size="8.9" text-anchor="middle" fill="#111" textLength="19.6" lengthAdjust="spacingAndGlyphs" stroke="#111" stroke-width="0.5">POST</text>
<g opacity="0.82" filter="url(#bl)">
<polyline points="466.2,20.0 488.1,55.0 508.8,41.3" fill="none" stroke="#8c3a38" stroke-width="2.3" stroke-linejoin="round"/>
<rect x="462.5" y="16.3" width="7.4" height="7.4" fill="#8c3a38"/>
<rect x="484.4" y="51.3" width="7.4" height="7.4" fill="#8c3a38"/>
<rect x="505.1" y="37.6" width="7.4" height="7.4" fill="#8c3a38"/>
</g>
<g opacity="0.82" filter="url(#bl)">
<polyline points="466.2,23.8 488.1,92.5 508.8,36.3" fill="none" stroke="#4bacc6" stroke-width="2.3" stroke-linejoin="round"/>
<path d="M462.5 20.1L469.9 27.5M469.9 20.1L462.5 27.5" stroke="#4bacc6" stroke-width="1.4" fill="none"/>
<path d="M484.4 88.8L491.8 96.2M491.8 88.8L484.4 96.2" stroke="#4bacc6" stroke-width="1.4" fill="none"/>
<path d="M505.1 32.6L512.5 40.0M512.5 32.6L505.1 40.0" stroke="#4bacc6" stroke-width="1.4" fill="none"/>
</g>
<g opacity="0.82" filter="url(#bl)">
<polyline points="466.2,20.0 488.1,92.5 508.8,40.0" fill="none" stroke="#8a9090" stroke-width="2.3" stroke-linejoin="round"/>
<rect x="462.5" y="16.3" width="7.4" height="7.4" fill="#8a9090"/>
<rect x="484.4" y="88.8" width="7.4" height="7.4" fill="#8a9090"/>
<rect x="505.1" y="36.3" width="7.4" height="7.4" fill="#8a9090"/>
</g>
<g opacity="0.82" filter="url(#bl)">
<polyline points="466.2,40.0 488.1,77.5 508.8,65.6" fill="none" stroke="#f79646" stroke-width="2.3" stroke-linejoin="round"/>
<circle cx="466.2" cy="40.0" r="3.7" fill="#f79646"/>
<circle cx="488.1" cy="77.5" r="3.7" fill="#f79646"/>
<circle cx="508.8" cy="65.6" r="3.7" fill="#f79646"/>
</g>
<g opacity="0.82" filter="url(#bl)">
<polyline points="466.2,47.5 488.1,87.5 508.8,57.5" fill="none" stroke="#5b83c0" stroke-width="2.3" stroke-linejoin="round"/>
<path d="M466.2 43.2L470.5 47.5L466.2 51.8L461.9 47.5Z" fill="#5b83c0"/>
<path d="M488.1 83.2L492.4 87.5L488.1 91.8L483.8 87.5Z" fill="#5b83c0"/>
<path d="M508.8 53.2L513.1 57.5L508.8 61.8L504.5 57.5Z" fill="#5b83c0"/>
</g>
<g opacity="0.82" filter="url(#bl)">
<polyline points="466.2,20.0 488.1,90.0 508.8,33.8" fill="none" stroke="#a8a860" stroke-width="2.3" stroke-linejoin="round"/>
<path d="M466.2 15.8L470.4 23.7L462.0 23.7Z" fill="#a8a860"/>
<path d="M488.1 85.8L492.3 93.7L483.9 93.7Z" fill="#a8a860"/>
<path d="M508.8 29.6L513.0 37.5L504.6 37.5Z" fill="#a8a860"/>
</g>
<g opacity="0.82" filter="url(#bl)">
<polyline points="466.2,47.5 488.1,85.0 508.8,60.0" fill="none" stroke="#8064a2" stroke-width="2.3" stroke-linejoin="round"/>
<path d="M466.2 43.2L470.5 47.5L466.2 51.8L461.9 47.5Z" fill="#8064a2"/>
<path d="M488.1 80.7L492.4 85.0L488.1 89.3L483.8 85.0Z" fill="#8064a2"/>
<path d="M508.8 55.7L513.1 60.0L508.8 64.3L504.5 60.0Z" fill="#8064a2"/>
</g>
<g opacity="0.82" filter="url(#bl)">
<polyline points="466.2,20.0 488.1,82.5 508.8,46.3" fill="none" stroke="#8db0da" stroke-width="2.3" stroke-linejoin="round"/>
<path d="M462.5 16.3L469.9 23.7M469.9 16.3L462.5 23.7" stroke="#8db0da" stroke-width="1.4" fill="none"/>
<path d="M484.4 78.8L491.8 86.2M491.8 78.8L484.4 86.2" stroke="#8db0da" stroke-width="1.4" fill="none"/>
<path d="M505.1 42.6L512.5 50.0M512.5 42.6L505.1 50.0" stroke="#8db0da" stroke-width="1.4" fill="none"/>
</g>
<g opacity="0.82" filter="url(#bl)">
<polyline points="466.2,35.0 488.1,88.0 508.8,50.0" fill="none" stroke="#d8b088" stroke-width="2.3" stroke-linejoin="round"/>
<circle cx="466.2" cy="35.0" r="3.7" fill="#d8b088"/>
<circle cx="488.1" cy="88.0" r="3.7" fill="#d8b088"/>
<circle cx="508.8" cy="50.0" r="3.7" fill="#d8b088"/>
</g>
<path d="M47.5 139.0V220.7H103.8" fill="none" stroke="#8c8c8c" stroke-width="1.2"/>
<path d="M44.9 139.0H47.5M44.9 166.3H47.5M44.9 193.5H47.5M44.9 220.7H47.5M47.5 220.7V223.3M66.3 220.7V223.3M85.0 220.7V223.3M103.8 220.7V223.3" fill="none" stroke="#8c8c8c" stroke-width="1"/>
<text x="40.0" y="144.2" font-size="10.0" text-anchor="end" fill="#111" textLength="16.6" lengthAdjust="spacingAndGlyphs" stroke="#111" stroke-width="0.45">1000</text>
<text x="40.0" y="171.5" font-size="10.0" text-anchor="end" fill="#111" textLength="12.5" lengthAdjust="spacingAndGlyphs" stroke="#111" stroke-width="0.45">100</text>
<text x="40.0" y="198.7" font-size="10.0" text-anchor="end" fill="#111" textLength="8.3" lengthAdjust="spacingAndGlyphs" stroke="#111" stroke-width="0.45">10</text>
<text x="40.0" y="225.9" font-size="10.0" text-anchor="end" fill="#111" textLength="4.2" lengthAdjust="spacingAndGlyphs" stroke="#111" stroke-width="0.45">1</text>
<text x="58.2" y="138.9" font-size="14.6" fill="#111" textLength="29.1" lengthAdjust="spacingAndGlyphs" stroke="#111" stroke-width="0.55">IRF8</text>
<text x="57.9" y="236.2" font-size="8.9" text-anchor="middle" fill="#111" textLength="14.2" lengthAdjust="spacingAndGlyphs" stroke="#111" stroke-width="0.5">PRE</text>
<text x="76.2" y="236.2" font-size="8.9" text-anchor="middle" fill="#111" textLength="12.2" lengthAdjust="spacingAndGlyphs" stroke="#111" stroke-width="0.5">INF</text>
<text x="95.0" y="236.2" font-size="8.9" text-anchor="middle" fill="#111" textLength="19.6" lengthAdjust="spacingAndGlyphs" stroke="#111" stroke-width="0.5">POST</text>
<g opacity="0.82" filter="url(#bl)">
<polyline points="57.9,155.6 76.2,192.5 95.0,172.5" fill="none" stroke="#8a9090" stroke-width="2.3" stroke-linejoin="round"/>
<rect x="54.2" y="151.9" width="7.4" height="7.4" fill="#8a9090"/>
<rect x="72.5" y="188.8" width="7.4" height="7.4" fill="#8a9090"/>
<rect x="91.3" y="168.8" width="7.4" height="7.4" fill="#8a9090"/>
</g>
<g opacity="0.82" filter="url(#bl)">
<polyline points="57.9,155.6 76.2,175.0 95.0,175.0" fill="none" stroke="#8c3a38" stroke-width="2.3" stroke-linejoin="round"/>
<circle cx="57.9" cy="155.6" r="3.7" fill="#8c3a38"/>
<circle cx="76.2" cy="175.0" r="3.7" fill="#8c3a38"/>
<circle cx="95.0" cy="175.0" r="3.7" fill="#8c3a38"/>
</g>
<g opacity="0.82" filter="url(#bl)">
<polyline points="57.9,166.3 76.2,185.0 95.0,176.0" fill="none" stroke="#5b83c0" stroke-width="2.3" stroke-linejoin="round"/>
<path d="M57.9 162.0L62.2 166.3L57.9 170.6L53.6 166.3Z" fill="#5b83c0"/>
<path d="M76.2 180.7L80.5 185.0L76.2 189.3L71.9 185.0Z" fill="#5b83c0"/>
<path d="M95.0 171.7L99.3 176.0L95.0 180.3L90.7 176.0Z" fill="#5b83c0"/>
</g>
<g opacity="0.82" filter="url(#bl)">
<polyline points="57.9,172.5 76.2,187.5 95.0,187.5" fill="none" stroke="#f79646" stroke-width="2.3" stroke-linejoin="round"/>
<circle cx="57.9" cy="172.5" r="3.7" fill="#f79646"/>
<circle cx="76.2" cy="187.5" r="3.7" fill="#f79646"/>
<circle cx="95.0" cy="187.5" r="3.7" fill="#f79646"/>
</g>
<g opacity="0.82" filter="url(#bl)">
<polyline points="57.9,172.5 76.2,206.9 95.0,182.5" fill="none" stroke="#d89090" stroke-width="2.3" stroke-linejoin="round"/>
</g>
<g opacity="0.82" filter="url(#bl)">
<polyline points="57.9,165.0 76.2,192.5 95.0,171.0" fill="none" stroke="#d8b088" stroke-width="2.3" stroke-linejoin="round"/>
<rect x="54.2" y="161.3" width="7.4" height="7.4" fill="#d8b088"/>
<rect x="72.5" y="188.8" width="7.4" height="7.4" fill="#d8b088"/>
<rect x="91.3" y="167.3" width="7.4" height="7.4" fill="#d8b088"/>
</g>
<g opacity="0.82" filter="url(#bl)">
<polyline points="57.9,166.0 76.2,186.0 95.0,181.0" fill="none" stroke="#8db0da" stroke-width="2.3" stroke-linejoin="round"/>
<path d="M54.2 162.3L61.6 169.7M61.6 162.3L54.2 169.7" stroke="#8db0da" stroke-width="1.4" fill="none"/>
<path d="M72.5 182.3L79.9 189.7M79.9 182.3L72.5 189.7" stroke="#8db0da" stroke-width="1.4" fill="none"/>
<path d="M91.3 177.3L98.7 184.7M98.7 177.3L91.3 184.7" stroke="#8db0da" stroke-width="1.4" fill="none"/>
</g>
<g opacity="0.82" filter="url(#bl)">
<polyline points="57.9,160.0 76.2,186.0 95.0,177.5" fill="none" stroke="#9bbb59" stroke-width="2.3" stroke-linejoin="round"/>
<path d="M57.9 155.8L62.1 163.7L53.7 163.7Z" fill="#9bbb59"/>
<path d="M76.2 181.8L80.4 189.7L72.0 189.7Z" fill="#9bbb59"/>
<path d="M95.0 173.3L99.2 181.2L90.8 181.2Z" fill="#9bbb59"/>
</g>
<g opacity="0.82" filter="url(#bl)">
<polyline points="57.9,158.0 76.2,188.0 95.0,178.0" fill="none" stroke="#4bacc6" stroke-width="2.3" stroke-linejoin="round"/>
<path d="M54.2 154.3L61.6 161.7M61.6 154.3L54.2 161.7" stroke="#4bacc6" stroke-width="1.4" fill="none"/>
<path d="M72.5 184.3L79.9 191.7M79.9 184.3L72.5 191.7" stroke="#4bacc6" stroke-width="1.4" fill="none"/>
<path d="M91.3 174.3L98.7 181.7M98.7 174.3L91.3 181.7" stroke="#4bacc6" stroke-width="1.4" fill="none"/>
</g>
<path d="M128.8 140.0V220.7H189.4" fill="none" stroke="#8c8c8c" stroke-width="1.2"/>
<path d="M126.2 140.0H128.8M126.2 166.8H128.8M126.2 193.7H128.8M126.2 220.7H128.8M128.8 220.7V223.3M149.0 220.7V223.3M169.2 220.7V223.3M189.4 220.7V223.3" fill="none" stroke="#8c8c8c" stroke-width="1"/>
<text x="120.0" y="145.2" font-size="10.0" text-anchor="end" fill="#111" textLength="20.8" lengthAdjust="spacingAndGlyphs" stroke="#111" stroke-width="0.45">10000</text>
<text x="120.0" y="172.0" font-size="10.0" text-anchor="end" fill="#111" textLength="16.6" lengthAdjust="spacingAndGlyphs" stroke="#111" stroke-width="0.45">1000</text>
<text x="120.0" y="198.9" font-size="10.0" text-anchor="end" fill="#111" textLength="12.5" lengthAdjust="spacingAndGlyphs" stroke="#111" stroke-width="0.45">100</text>
<text x="120.0" y="225.9" font-size="10.0" text-anchor="end" fill="#111" textLength="8.3" lengthAdjust="spacingAndGlyphs" stroke="#111" stroke-width="0.45">10</text>
<text x="137.4" y="138.4" font-size="14.6" fill="#111" textLength="33.5" lengthAdjust="spacingAndGlyphs" stroke="#111" stroke-width="0.55">TCF7</text>
<text x="139.5" y="236.2" font-size="8.9" text-anchor="middle" fill="#111" textLength="14.2" lengthAdjust="spacingAndGlyphs" stroke="#111" stroke-width="0.5">PRE</text>
<text x="159.4" y="236.2" font-size="8.9" text-anchor="middle" fill="#111" textLength="12.2" lengthAdjust="spacingAndGlyphs" stroke="#111" stroke-width="0.5">INF</text>
<text x="179.9" y="236.2" font-size="8.9" text-anchor="middle" fill="#111" textLength="19.6" lengthAdjust="spacingAndGlyphs" stroke="#111" stroke-width="0.5">POST</text>
<g opacity="0.82" filter="url(#bl)">
<polyline points="139.5,149.4 159.4,193.8 179.9,201.3" fill="none" stroke="#5b83c0" stroke-width="2.3" stroke-linejoin="round"/>
<path d="M139.5 145.1L143.8 149.4L139.5 153.7L135.2 149.4Z" fill="#5b83c0"/>
<path d="M159.4 189.5L163.7 193.8L159.4 198.1L155.1 193.8Z" fill="#5b83c0"/>
<path d="M179.9 197.0L184.2 201.3L179.9 205.6L175.6 201.3Z" fill="#5b83c0"/>
</g>
<g opacity="0.82" filter="url(#bl)">
<polyline points="139.5,153.8 159.4,178.8 179.9,161.9" fill="none" stroke="#b0a0cc" stroke-width="2.3" stroke-linejoin="round"/>
<path d="M135.8 150.1L143.2 157.5M143.2 150.1L135.8 157.5" stroke="#b0a0cc" stroke-width="1.4" fill="none"/>
<path d="M155.7 175.1L163.1 182.5M163.1 175.1L155.7 182.5" stroke="#b0a0cc" stroke-width="1.4" fill="none"/>
<path d="M176.2 158.2L183.6 165.6M183.6 158.2L176.2 165.6" stroke="#b0a0cc" stroke-width="1.4" fill="none"/>
</g>
<g opacity="0.82" filter="url(#bl)">
<polyline points="139.5,161.3 159.4,188.8 179.9,170.0" fill="none" stroke="#8a9090" stroke-width="2.3" stroke-linejoin="round"/>
<rect x="135.8" y="157.6" width="7.4" height="7.4" fill="#8a9090"/>
<rect x="155.7" y="185.1" width="7.4" height="7.4" fill="#8a9090"/>
<rect x="176.2" y="166.3" width="7.4" height="7.4" fill="#8a9090"/>
</g>
<g opacity="0.82" filter="url(#bl)">
<polyline points="139.5,165.0 159.4,193.8 179.9,172.5" fill="none" stroke="#4bacc6" stroke-width="2.3" stroke-linejoin="round"/>
<path d="M135.8 161.3L143.2 168.7M143.2 161.3L135.8 168.7" stroke="#4bacc6" stroke-width="1.4" fill="none"/>
<path d="M155.7 190.1L163.1 197.5M163.1 190.1L155.7 197.5" stroke="#4bacc6" stroke-width="1.4" fill="none"/>
<path d="M176.2 168.8L183.6 176.2M183.6 168.8L176.2 176.2" stroke="#4bacc6" stroke-width="1.4" fill="none"/>
</g>
<g opacity="0.82" filter="url(#bl)">
<polyline points="139.5,174.4 159.4,210.6 179.9,180.6" fill="none" stroke="#f79646" stroke-width="2.3" stroke-linejoin="round"/>
<circle cx="139.5" cy="174.4" r="3.7" fill="#f79646"/>
<circle cx="159.4" cy="210.6" r="3.7" fill="#f79646"/>
<circle cx="179.9" cy="180.6" r="3.7" fill="#f79646"/>
</g>
<g opacity="0.82" filter="url(#bl)">
<polyline points="139.5,161.0 159.4,202.5 179.9,186.9" fill="none" stroke="#c0504d" stroke-width="2.3" stroke-linejoin="round"/>
<rect x="135.8" y="157.3" width="7.4" height="7.4" fill="#c0504d"/>
<rect x="155.7" y="198.8" width="7.4" height="7.4" fill="#c0504d"/>
<rect x="176.2" y="183.2" width="7.4" height="7.4" fill="#c0504d"/>
</g>
<g opacity="0.82" filter="url(#bl)">
<polyline points="139.5,165.0 159.4,200.0 179.9,178.8" fill="none" stroke="#8064a2" stroke-width="2.3" stroke-linejoin="round"/>
<path d="M139.5 160.7L143.8 165.0L139.5 169.3L135.2 165.0Z" fill="#8064a2"/>
<path d="M159.4 195.7L163.7 200.0L159.4 204.3L155.1 200.0Z" fill="#8064a2"/>
<path d="M179.9 174.5L184.2 178.8L179.9 183.1L175.6 178.8Z" fill="#8064a2"/>
</g>
<g opacity="0.82" filter="url(#bl)">
<polyline points="139.5,161.0 159.4,200.0 179.9,183.8" fill="none" stroke="#a8a860" stroke-width="2.3" stroke-linejoin="round"/>
<path d="M139.5 156.8L143.7 164.7L135.3 164.7Z" fill="#a8a860"/>
<path d="M159.4 195.8L163.6 203.7L155.2 203.7Z" fill="#a8a860"/>
<path d="M179.9 179.6L184.1 187.5L175.7 187.5Z" fill="#a8a860"/>
</g>
<g opacity="0.82" filter="url(#bl)">
<polyline points="139.5,158.0 159.4,195.0 179.9,175.0" fill="none" stroke="#8db0da" stroke-width="2.3" stroke-linejoin="round"/>
<circle cx="139.5" cy="158.0" r="3.7" fill="#8db0da"/>
<circle cx="159.4" cy="195.0" r="3.7" fill="#8db0da"/>
<circle cx="179.9" cy="175.0" r="3.7" fill="#8db0da"/>
</g>
<path d="M208.5 142.0V220.7H264.6" fill="none" stroke="#8c8c8c" stroke-width="1.2"/>
<path d="M205.9 142.0H208.5M205.9 168.0H208.5M205.9 194.3H208.5M205.9 220.7H208.5M208.5 220.7V223.3M227.7 220.7V223.3M246.3 220.7V223.3M264.6 220.7V223.3" fill="none" stroke="#8c8c8c" stroke-width="1"/>
<text x="200.0" y="147.2" font-size="10.0" text-anchor="end" fill="#111" textLength="20.8" lengthAdjust="spacingAndGlyphs" stroke="#111" stroke-width="0.45">10000</text>
<text x="200.0" y="173.2" font-size="10.0" text-anchor="end" fill="#111" textLength="16.6" lengthAdjust="spacingAndGlyphs" stroke="#111" stroke-width="0.45">1000</text>
<text x="200.0" y="199.5" font-size="10.0" text-anchor="end" fill="#111" textLength="12.5" lengthAdjust="spacingAndGlyphs" stroke="#111" stroke-width="0.45">100</text>
<text x="200.0" y="225.9" font-size="10.0" text-anchor="end" fill="#111" textLength="8.3" lengthAdjust="spacingAndGlyphs" stroke="#111" stroke-width="0.45">10</text>
<text x="212.9" y="140.4" font-size="14.6" fill="#111" textLength="36.0" lengthAdjust="spacingAndGlyphs" stroke="#111" stroke-width="0.55">CD44</text>
<text x="218.0" y="236.2" font-size="8.9" text-anchor="middle" fill="#111" textLength="14.2" lengthAdjust="spacingAndGlyphs" stroke="#111" stroke-width="0.5">PRE</text>
<text x="236.9" y="236.2" font-size="8.9" text-anchor="middle" fill="#111" textLength="12.2" lengthAdjust="spacingAndGlyphs" stroke="#111" stroke-width="0.5">INF</text>
<text x="255.6" y="236.2" font-size="8.9" text-anchor="middle" fill="#111" textLength="19.6" lengthAdjust="spacingAndGlyphs" stroke="#111" stroke-width="0.5">POST</text>
<g opacity="0.82" filter="url(#bl)">
<polyline points="218.0,161.3 236.9,181.3 255.6,176.3" fill="none" stroke="#5b83c0" stroke-width="2.3" stroke-linejoin="round"/>
<path d="M218.0 157.0L222.3 161.3L218.0 165.6L213.7 161.3Z" fill="#5b83c0"/>
<path d="M236.9 177.0L241.2 181.3L236.9 185.6L232.6 181.3Z" fill="#5b83c0"/>
<path d="M255.6 172.0L259.9 176.3L255.6 180.6L251.3 176.3Z" fill="#5b83c0"/>
</g>
<g opacity="0.82" filter="url(#bl)">
<polyline points="218.0,166.3 236.9,178.0 255.6,170.6" fill="none" stroke="#b0a0cc" stroke-width="2.3" stroke-linejoin="round"/>
<path d="M214.3 162.6L221.7 170.0M221.7 162.6L214.3 170.0" stroke="#b0a0cc" stroke-width="1.4" fill="none"/>
<path d="M233.2 174.3L240.6 181.7M240.6 174.3L233.2 181.7" stroke="#b0a0cc" stroke-width="1.4" fill="none"/>
<path d="M251.9 166.9L259.3 174.3M259.3 166.9L251.9 174.3" stroke="#b0a0cc" stroke-width="1.4" fill="none"/>
</g>
<g opacity="0.82" filter="url(#bl)">
<polyline points="218.0,173.8 236.9,187.5 255.6,178.0" fill="none" stroke="#f79646" stroke-width="2.3" stroke-linejoin="round"/>
<circle cx="218.0" cy="173.8" r="3.7" fill="#f79646"/>
<circle cx="236.9" cy="187.5" r="3.7" fill="#f79646"/>
<circle cx="255.6" cy="178.0" r="3.7" fill="#f79646"/>
</g>
<g opacity="0.82" filter="url(#bl)">
<polyline points="218.0,166.0 236.9,183.8 255.6,170.0" fill="none" stroke="#d8b088" stroke-width="2.3" stroke-linejoin="round"/>
<rect x="214.3" y="162.3" width="7.4" height="7.4" fill="#d8b088"/>
<rect x="233.2" y="180.1" width="7.4" height="7.4" fill="#d8b088"/>
<rect x="251.9" y="166.3" width="7.4" height="7.4" fill="#d8b088"/>
</g>
<g opacity="0.82" filter="url(#bl)">
<polyline points="218.0,170.0 236.9,192.5 255.6,180.0" fill="none" stroke="#9bbb59" stroke-width="2.3" stroke-linejoin="round"/>
<path d="M218.0 165.8L222.2 173.7L213.8 173.7Z" fill="#9bbb59"/>
<path d="M236.9 188.3L241.1 196.2L232.7 196.2Z" fill="#9bbb59"/>
<path d="M255.6 175.8L259.8 183.7L251.4 183.7Z" fill="#9bbb59"/>
</g>
<g opacity="0.82" filter="url(#bl)">
<polyline points="218.0,168.0 236.9,196.3 255.6,186.3" fill="none" stroke="#c0504d" stroke-width="2.3" stroke-linejoin="round"/>
<rect x="214.3" y="164.3" width="7.4" height="7.4" fill="#c0504d"/>
<rect x="233.2" y="192.6" width="7.4" height="7.4" fill="#c0504d"/>
<rect x="251.9" y="182.6" width="7.4" height="7.4" fill="#c0504d"/>
</g>
<g opacity="0.82" filter="url(#bl)">
<polyline points="218.0,165.0 236.9,182.0 255.6,175.0" fill="none" stroke="#4bacc6" stroke-width="2.3" stroke-linejoin="round"/>
<path d="M214.3 161.3L221.7 168.7M221.7 161.3L214.3 168.7" stroke="#4bacc6" stroke-width="1.4" fill="none"/>
<path d="M233.2 178.3L240.6 185.7M240.6 178.3L233.2 185.7" stroke="#4bacc6" stroke-width="1.4" fill="none"/>
<path d="M251.9 171.3L259.3 178.7M259.3 171.3L251.9 178.7" stroke="#4bacc6" stroke-width="1.4" fill="none"/>
</g>
<g opacity="0.82" filter="url(#bl)">
<polyline points="218.0,164.0 236.9,184.0 255.6,172.0" fill="none" stroke="#8a9090" stroke-width="2.3" stroke-linejoin="round"/>
<rect x="214.3" y="160.3" width="7.4" height="7.4" fill="#8a9090"/>
<rect x="233.2" y="180.3" width="7.4" height="7.4" fill="#8a9090"/>
<rect x="251.9" y="168.3" width="7.4" height="7.4" fill="#8a9090"/>
</g>
<path d="M288.5 142.5V220.7H347.0" fill="none" stroke="#8c8c8c" stroke-width="1.2"/>
<path d="M285.9 142.5H288.5M285.9 168.5H288.5M285.9 194.6H288.5M285.9 220.7H288.5M288.5 220.7V223.3M308.0 220.7V223.3M327.7 220.7V223.3M347.0 220.7V223.3" fill="none" stroke="#8c8c8c" stroke-width="1"/>
<text x="279.5" y="147.7" font-size="10.0" text-anchor="end" fill="#111" textLength="20.8" lengthAdjust="spacingAndGlyphs" stroke="#111" stroke-width="0.45">10000</text>
<text x="279.5" y="173.7" font-size="10.0" text-anchor="end" fill="#111" textLength="16.6" lengthAdjust="spacingAndGlyphs" stroke="#111" stroke-width="0.45">1000</text>
<text x="279.5" y="199.8" font-size="10.0" text-anchor="end" fill="#111" textLength="12.5" lengthAdjust="spacingAndGlyphs" stroke="#111" stroke-width="0.45">100</text>
<text x="279.5" y="225.9" font-size="10.0" text-anchor="end" fill="#111" textLength="8.3" lengthAdjust="spacingAndGlyphs" stroke="#111" stroke-width="0.45">10</text>
<text x="291.9" y="139.4" font-size="14.6" fill="#111" textLength="48.0" lengthAdjust="spacingAndGlyphs" stroke="#111" stroke-width="0.55">NFKBIZ</text>
<text x="298.0" y="236.2" font-size="8.9" text-anchor="middle" fill="#111" textLength="14.2" lengthAdjust="spacingAndGlyphs" stroke="#111" stroke-width="0.5">PRE</text>
<text x="317.7" y="236.2" font-size="8.9" text-anchor="middle" fill="#111" textLength="12.2" lengthAdjust="spacingAndGlyphs" stroke="#111" stroke-width="0.5">INF</text>
<text x="337.6" y="236.2" font-size="8.9" text-anchor="middle" fill="#111" textLength="19.6" lengthAdjust="spacingAndGlyphs" stroke="#111" stroke-width="0.5">POST</text>
<g opacity="0.82" filter="url(#bl)">
<polyline points="298.0,156.3 317.7,193.8 337.6,177.5" fill="none" stroke="#a8a860" stroke-width="2.3" stroke-linejoin="round"/>
<rect x="294.3" y="152.6" width="7.4" height="7.4" fill="#a8a860"/>
<rect x="314.0" y="190.1" width="7.4" height="7.4" fill="#a8a860"/>
<rect x="333.9" y="173.8" width="7.4" height="7.4" fill="#a8a860"/>
</g>
<g opacity="0.82" filter="url(#bl)">
<polyline points="298.0,157.5 317.7,190.0 337.6,175.0" fill="none" stroke="#9bbb59" stroke-width="2.3" stroke-linejoin="round"/>
<path d="M298.0 153.3L302.2 161.2L293.8 161.2Z" fill="#9bbb59"/>
<path d="M317.7 185.8L321.9 193.7L313.5 193.7Z" fill="#9bbb59"/>
<path d="M337.6 170.8L341.8 178.7L333.4 178.7Z" fill="#9bbb59"/>
</g>
<g opacity="0.82" filter="url(#bl)">
<polyline points="298.0,165.0 317.7,185.0 337.6,171.3" fill="none" stroke="#8064a2" stroke-width="2.3" stroke-linejoin="round"/>
<path d="M298.0 160.7L302.3 165.0L298.0 169.3L293.7 165.0Z" fill="#8064a2"/>
<path d="M317.7 180.7L322.0 185.0L317.7 189.3L313.4 185.0Z" fill="#8064a2"/>
<path d="M337.6 167.0L341.9 171.3L337.6 175.6L333.3 171.3Z" fill="#8064a2"/>
</g>
<g opacity="0.82" filter="url(#bl)">
<polyline points="298.0,165.0 317.7,176.3 337.6,169.4" fill="none" stroke="#d89090" stroke-width="2.3" stroke-linejoin="round"/>
<path d="M294.3 161.3L301.7 168.7M301.7 161.3L294.3 168.7" stroke="#d89090" stroke-width="1.4" fill="none"/>
<path d="M314.0 172.6L321.4 180.0M321.4 172.6L314.0 180.0" stroke="#d89090" stroke-width="1.4" fill="none"/>
<path d="M333.9 165.7L341.3 173.1M341.3 165.7L333.9 173.1" stroke="#d89090" stroke-width="1.4" fill="none"/>
</g>
<g opacity="0.82" filter="url(#bl)">
<polyline points="298.0,173.8 317.7,190.0 337.6,178.8" fill="none" stroke="#f79646" stroke-width="2.3" stroke-linejoin="round"/>
<circle cx="298.0" cy="173.8" r="3.7" fill="#f79646"/>
<circle cx="317.7" cy="190.0" r="3.7" fill="#f79646"/>
<circle cx="337.6" cy="178.8" r="3.7" fill="#f79646"/>
</g>
<g opacity="0.82" filter="url(#bl)">
<polyline points="298.0,165.0 317.7,190.0 337.6,189.4" fill="none" stroke="#5b83c0" stroke-width="2.3" stroke-linejoin="round"/>
<circle cx="298.0" cy="165.0" r="3.7" fill="#5b83c0"/>
<circle cx="317.7" cy="190.0" r="3.7" fill="#5b83c0"/>
<circle cx="337.6" cy="189.4" r="3.7" fill="#5b83c0"/>
</g>
<g opacity="0.82" filter="url(#bl)">
<polyline points="298.0,160.0 317.7,185.0 337.6,188.8" fill="none" stroke="#4bacc6" stroke-width="2.3" stroke-linejoin="round"/>
<path d="M294.3 156.3L301.7 163.7M301.7 156.3L294.3 163.7" stroke="#4bacc6" stroke-width="1.4" fill="none"/>
<path d="M314.0 181.3L321.4 188.7M321.4 181.3L314.0 188.7" stroke="#4bacc6" stroke-width="1.4" fill="none"/>
<path d="M333.9 185.1L341.3 192.5M341.3 185.1L333.9 192.5" stroke="#4bacc6" stroke-width="1.4" fill="none"/>
</g>
<g opacity="0.82" filter="url(#bl)">
<polyline points="298.0,158.0 317.7,192.0 337.6,174.0" fill="none" stroke="#8a9090" stroke-width="2.3" stroke-linejoin="round"/>
<rect x="294.3" y="154.3" width="7.4" height="7.4" fill="#8a9090"/>
<rect x="314.0" y="188.3" width="7.4" height="7.4" fill="#8a9090"/>
<rect x="333.9" y="170.3" width="7.4" height="7.4" fill="#8a9090"/>
</g>
<path d="M374.6 142.0V220.7H430.4" fill="none" stroke="#8c8c8c" stroke-width="1.2"/>
<path d="M372.0 142.0H374.6M372.0 161.7H374.6M372.0 181.4H374.6M372.0 201.0H374.6M372.0 220.7H374.6M374.6 220.7V223.3M393.8 220.7V223.3M412.7 220.7V223.3M430.4 220.7V223.3" fill="none" stroke="#8c8c8c" stroke-width="1"/>
<text x="366.0" y="147.2" font-size="10.0" text-anchor="end" fill="#111" textLength="16.6" lengthAdjust="spacingAndGlyphs" stroke="#111" stroke-width="0.45">1000</text>
<text x="366.0" y="166.9" font-size="10.0" text-anchor="end" fill="#111" textLength="12.5" lengthAdjust="spacingAndGlyphs" stroke="#111" stroke-width="0.45">100</text>
<text x="366.0" y="186.6" font-size="10.0" text-anchor="end" fill="#111" textLength="8.3" lengthAdjust="spacingAndGlyphs" stroke="#111" stroke-width="0.45">10</text>
<text x="366.0" y="206.2" font-size="10.0" text-anchor="end" fill="#111" textLength="4.2" lengthAdjust="spacingAndGlyphs" stroke="#111" stroke-width="0.45">1</text>
<text x="366.0" y="225.9" font-size="10.0" text-anchor="end" fill="#111" textLength="10.6" lengthAdjust="spacingAndGlyphs" stroke="#111" stroke-width="0.45">0.1</text>
<text x="386.4" y="139.9" font-size="14.6" fill="#111" textLength="34.5" lengthAdjust="spacingAndGlyphs" stroke="#111" stroke-width="0.55">PPBP</text>
<text x="384.0" y="236.2" font-size="8.9" text-anchor="middle" fill="#111" textLength="14.2" lengthAdjust="spacingAndGlyphs" stroke="#111" stroke-width="0.5">PRE</text>
<text x="403.1" y="236.2" font-size="8.9" text-anchor="middle" fill="#111" textLength="12.2" lengthAdjust="spacingAndGlyphs" stroke="#111" stroke-width="0.5">INF</text>
<text x="422.2" y="236.2" font-size="8.9" text-anchor="middle" fill="#111" textLength="19.6" lengthAdjust="spacingAndGlyphs" stroke="#111" stroke-width="0.5">POST</text>
<g opacity="0.82" filter="url(#bl)">
<polyline points="384.0,158.8 403.1,176.3 422.2,161.3" fill="none" stroke="#8c3a38" stroke-width="2.3" stroke-linejoin="round"/>
<rect x="380.3" y="155.1" width="7.4" height="7.4" fill="#8c3a38"/>
<rect x="399.4" y="172.6" width="7.4" height="7.4" fill="#8c3a38"/>
<rect x="418.5" y="157.6" width="7.4" height="7.4" fill="#8c3a38"/>
</g>
<g opacity="0.82" filter="url(#bl)">
<polyline points="384.0,171.3 403.1,180.0 422.2,177.5" fill="none" stroke="#f79646" stroke-width="2.3" stroke-linejoin="round"/>
<circle cx="384.0" cy="171.3" r="3.7" fill="#f79646"/>
<circle cx="403.1" cy="180.0" r="3.7" fill="#f79646"/>
<circle cx="422.2" cy="177.5" r="3.7" fill="#f79646"/>
</g>
<g opacity="0.82" filter="url(#bl)">
<polyline points="384.0,163.8 403.1,187.5 422.2,187.5" fill="none" stroke="#5b83c0" stroke-width="2.3" stroke-linejoin="round"/>
<path d="M384.0 159.5L388.3 163.8L384.0 168.1L379.7 163.8Z" fill="#5b83c0"/>
<path d="M403.1 183.2L407.4 187.5L403.1 191.8L398.8 187.5Z" fill="#5b83c0"/>
<path d="M422.2 183.2L426.5 187.5L422.2 191.8L417.9 187.5Z" fill="#5b83c0"/>
</g>
<g opacity="0.82" filter="url(#bl)">
<polyline points="384.0,182.5 403.1,205.0 422.2,182.5" fill="none" stroke="#b0a0cc" stroke-width="2.3" stroke-linejoin="round"/>
<path d="M380.3 178.8L387.7 186.2M387.7 178.8L380.3 186.2" stroke="#b0a0cc" stroke-width="1.4" fill="none"/>
<path d="M399.4 201.3L406.8 208.7M406.8 201.3L399.4 208.7" stroke="#b0a0cc" stroke-width="1.4" fill="none"/>
<path d="M418.5 178.8L425.9 186.2M425.9 178.8L418.5 186.2" stroke="#b0a0cc" stroke-width="1.4" fill="none"/>
</g>
<g opacity="0.82" filter="url(#bl)">
<polyline points="384.0,163.0 403.1,191.3 422.2,167.5" fill="none" stroke="#9bbb59" stroke-width="2.3" stroke-linejoin="round"/>
<path d="M384.0 158.8L388.2 166.7L379.8 166.7Z" fill="#9bbb59"/>
<path d="M403.1 187.1L407.3 195.0L398.9 195.0Z" fill="#9bbb59"/>
<path d="M422.2 163.3L426.4 171.2L418.0 171.2Z" fill="#9bbb59"/>
</g>
<g opacity="0.82" filter="url(#bl)">
<polyline points="384.0,170.0 403.1,190.0 422.2,185.0" fill="none" stroke="#4bacc6" stroke-width="2.3" stroke-linejoin="round"/>
<path d="M380.3 166.3L387.7 173.7M387.7 166.3L380.3 173.7" stroke="#4bacc6" stroke-width="1.4" fill="none"/>
<path d="M399.4 186.3L406.8 193.7M406.8 186.3L399.4 193.7" stroke="#4bacc6" stroke-width="1.4" fill="none"/>
<path d="M418.5 181.3L425.9 188.7M425.9 181.3L418.5 188.7" stroke="#4bacc6" stroke-width="1.4" fill="none"/>
</g>
<g opacity="0.82" filter="url(#bl)">
<polyline points="384.0,160.0 403.1,200.0 422.2,172.5" fill="none" stroke="#d8a0b0" stroke-width="2.3" stroke-linejoin="round"/>
<rect x="380.3" y="156.3" width="7.4" height="7.4" fill="#d8a0b0"/>
<rect x="399.4" y="196.3" width="7.4" height="7.4" fill="#d8a0b0"/>
<rect x="418.5" y="168.8" width="7.4" height="7.4" fill="#d8a0b0"/>
</g>
<g opacity="0.82" filter="url(#bl)">
<polyline points="384.0,168.0 403.1,195.0 422.2,183.0" fill="none" stroke="#8db0da" stroke-width="2.3" stroke-linejoin="round"/>
<circle cx="384.0" cy="168.0" r="3.7" fill="#8db0da"/>
<circle cx="403.1" cy="195.0" r="3.7" fill="#8db0da"/>
<circle cx="422.2" cy="183.0" r="3.7" fill="#8db0da"/>
</g>
<path d="M455.6 141.3V220.7H516.0" fill="none" stroke="#8c8c8c" stroke-width="1.2"/>
<path d="M453.0 141.3H455.6M453.0 181.0H455.6M453.0 220.7H455.6M455.6 220.7V223.3M475.8 220.7V223.3M496.0 220.7V223.3M516.0 220.7V223.3" fill="none" stroke="#8c8c8c" stroke-width="1"/>
<text x="447.0" y="146.5" font-size="10.0" text-anchor="end" fill="#111" textLength="20.8" lengthAdjust="spacingAndGlyphs" stroke="#111" stroke-width="0.45">10000</text>
<text x="447.0" y="186.2" font-size="10.0" text-anchor="end" fill="#111" textLength="16.6" lengthAdjust="spacingAndGlyphs" stroke="#111" stroke-width="0.45">1000</text>
<text x="447.0" y="225.9" font-size="10.0" text-anchor="end" fill="#111" textLength="12.5" lengthAdjust="spacingAndGlyphs" stroke="#111" stroke-width="0.45">100</text>
<text x="462.4" y="138.9" font-size="14.6" fill="#111" textLength="48.5" lengthAdjust="spacingAndGlyphs" stroke="#111" stroke-width="0.55">MYD88</text>
<text x="466.8" y="236.2" font-size="8.9" text-anchor="middle" fill="#111" textLength="14.2" lengthAdjust="spacingAndGlyphs" stroke="#111" stroke-width="0.5">PRE</text>
<text x="486.6" y="236.2" font-size="8.9" text-anchor="middle" fill="#111" textLength="12.2" lengthAdjust="spacingAndGlyphs" stroke="#111" stroke-width="0.5">INF</text>
<text x="507.3" y="236.2" font-size="8.9" text-anchor="middle" fill="#111" textLength="19.6" lengthAdjust="spacingAndGlyphs" stroke="#111" stroke-width="0.5">POST</text>
<g opacity="0.82" filter="url(#bl)">
<polyline points="466.8,170.6 486.6,205.0 507.3,190.0" fill="none" stroke="#8a9090" stroke-width="2.3" stroke-linejoin="round"/>
<rect x="463.1" y="166.9" width="7.4" height="7.4" fill="#8a9090"/>
<rect x="482.9" y="201.3" width="7.4" height="7.4" fill="#8a9090"/>
<rect x="503.6" y="186.3" width="7.4" height="7.4" fill="#8a9090"/>
</g>
<g opacity="0.82" filter="url(#bl)">
<polyline points="466.8,176.3 486.6,201.3 507.3,190.0" fill="none" stroke="#5b83c0" stroke-width="2.3" stroke-linejoin="round"/>
<path d="M466.8 172.0L471.1 176.3L466.8 180.6L462.5 176.3Z" fill="#5b83c0"/>
<path d="M486.6 197.0L490.9 201.3L486.6 205.6L482.3 201.3Z" fill="#5b83c0"/>
<path d="M507.3 185.7L511.6 190.0L507.3 194.3L503.0 190.0Z" fill="#5b83c0"/>
</g>
<g opacity="0.82" filter="url(#bl)">
<polyline points="466.8,185.0 486.6,207.5 507.3,196.9" fill="none" stroke="#f79646" stroke-width="2.3" stroke-linejoin="round"/>
<circle cx="466.8" cy="185.0" r="3.7" fill="#f79646"/>
<circle cx="486.6" cy="207.5" r="3.7" fill="#f79646"/>
<circle cx="507.3" cy="196.9" r="3.7" fill="#f79646"/>
</g>
<g opacity="0.82" filter="url(#bl)">
<polyline points="466.8,175.0 486.6,197.5 507.3,183.0" fill="none" stroke="#b0a0cc" stroke-width="2.3" stroke-linejoin="round"/>
<path d="M463.1 171.3L470.5 178.7M470.5 171.3L463.1 178.7" stroke="#b0a0cc" stroke-width="1.4" fill="none"/>
<path d="M482.9 193.8L490.3 201.2M490.3 193.8L482.9 201.2" stroke="#b0a0cc" stroke-width="1.4" fill="none"/>
<path d="M503.6 179.3L511.0 186.7M511.0 179.3L503.6 186.7" stroke="#b0a0cc" stroke-width="1.4" fill="none"/>
</g>
<g opacity="0.82" filter="url(#bl)">
<polyline points="466.8,180.0 486.6,205.0 507.3,193.8" fill="none" stroke="#4bacc6" stroke-width="2.3" stroke-linejoin="round"/>
<path d="M463.1 176.3L470.5 183.7M470.5 176.3L463.1 183.7" stroke="#4bacc6" stroke-width="1.4" fill="none"/>
<path d="M482.9 201.3L490.3 208.7M490.3 201.3L482.9 208.7" stroke="#4bacc6" stroke-width="1.4" fill="none"/>
<path d="M503.6 190.1L511.0 197.5M511.0 190.1L503.6 197.5" stroke="#4bacc6" stroke-width="1.4" fill="none"/>
</g>
<g opacity="0.82" filter="url(#bl)">
<polyline points="466.8,185.0 486.6,210.0 507.3,195.0" fill="none" stroke="#9bbb59" stroke-width="2.3" stroke-linejoin="round"/>
<path d="M466.8 180.8L471.0 188.7L462.6 188.7Z" fill="#9bbb59"/>
<path d="M486.6 205.8L490.8 213.7L482.4 213.7Z" fill="#9bbb59"/>
<path d="M507.3 190.8L511.5 198.7L503.1 198.7Z" fill="#9bbb59"/>
</g>
<g opacity="0.82" filter="url(#bl)">
<polyline points="466.8,178.0 486.6,203.0 507.3,188.0" fill="none" stroke="#d8b088" stroke-width="2.3" stroke-linejoin="round"/>
<rect x="463.1" y="174.3" width="7.4" height="7.4" fill="#d8b088"/>
<rect x="482.9" y="199.3" width="7.4" height="7.4" fill="#d8b088"/>
<rect x="503.6" y="184.3" width="7.4" height="7.4" fill="#d8b088"/>
</g>
<path d="M45.8 271.0V349.8H102.0" fill="none" stroke="#8c8c8c" stroke-width="1.2"/>
<path d="M43.2 271.0H45.8M43.2 310.3H45.8M43.2 349.8H45.8M45.8 349.8V352.4M64.5 349.8V352.4M83.3 349.8V352.4M102.0 349.8V352.4" fill="none" stroke="#8c8c8c" stroke-width="1"/>
<text x="37.8" y="276.2" font-size="10.0" text-anchor="end" fill="#111" textLength="12.5" lengthAdjust="spacingAndGlyphs" stroke="#111" stroke-width="0.45">100</text>
<text x="37.8" y="315.5" font-size="10.0" text-anchor="end" fill="#111" textLength="8.3" lengthAdjust="spacingAndGlyphs" stroke="#111" stroke-width="0.45">10</text>
<text x="37.8" y="355.0" font-size="10.0" text-anchor="end" fill="#111" textLength="4.2" lengthAdjust="spacingAndGlyphs" stroke="#111" stroke-width="0.45">1</text>
<text x="57.9" y="268.4" font-size="14.6" fill="#111" textLength="35.5" lengthAdjust="spacingAndGlyphs" stroke="#111" stroke-width="0.55">CCR2</text>
<text x="54.8" y="365.2" font-size="8.9" text-anchor="middle" fill="#111" textLength="14.2" lengthAdjust="spacingAndGlyphs" stroke="#111" stroke-width="0.5">PRE</text>
<text x="74.0" y="365.2" font-size="8.9" text-anchor="middle" fill="#111" textLength="12.2" lengthAdjust="spacingAndGlyphs" stroke="#111" stroke-width="0.5">INF</text>
<text x="93.5" y="365.2" font-size="8.9" text-anchor="middle" fill="#111" textLength="19.6" lengthAdjust="spacingAndGlyphs" stroke="#111" stroke-width="0.5">POST</text>
<g opacity="0.82" filter="url(#bl)">
<polyline points="54.8,345.0 74.0,283.8 93.5,305.0" fill="none" stroke="#f79646" stroke-width="2.3" stroke-linejoin="round"/>
<circle cx="54.8" cy="345.0" r="3.7" fill="#f79646"/>
<circle cx="74.0" cy="283.8" r="3.7" fill="#f79646"/>
<circle cx="93.5" cy="305.0" r="3.7" fill="#f79646"/>
</g>
<g opacity="0.82" filter="url(#bl)">
<polyline points="54.8,328.8 74.0,290.0 93.5,296.3" fill="none" stroke="#c0504d" stroke-width="2.3" stroke-linejoin="round"/>
<rect x="51.1" y="325.1" width="7.4" height="7.4" fill="#c0504d"/>
<rect x="70.3" y="286.3" width="7.4" height="7.4" fill="#c0504d"/>
<rect x="89.8" y="292.6" width="7.4" height="7.4" fill="#c0504d"/>
</g>
<g opacity="0.82" filter="url(#bl)">
<polyline points="54.8,337.5 74.0,300.0 93.5,313.8" fill="none" stroke="#5b83c0" stroke-width="2.3" stroke-linejoin="round"/>
<path d="M54.8 333.2L59.1 337.5L54.8 341.8L50.5 337.5Z" fill="#5b83c0"/>
<path d="M74.0 295.7L78.3 300.0L74.0 304.3L69.7 300.0Z" fill="#5b83c0"/>
<path d="M93.5 309.5L97.8 313.8L93.5 318.1L89.2 313.8Z" fill="#5b83c0"/>
</g>
<g opacity="0.82" filter="url(#bl)">
<polyline points="54.8,323.8 74.0,288.8 93.5,295.0" fill="none" stroke="#9bbb59" stroke-width="2.3" stroke-linejoin="round"/>
<path d="M54.8 319.6L59.0 327.5L50.6 327.5Z" fill="#9bbb59"/>
<path d="M74.0 284.6L78.2 292.5L69.8 292.5Z" fill="#9bbb59"/>
<path d="M93.5 290.8L97.7 298.7L89.3 298.7Z" fill="#9bbb59"/>
</g>
<g opacity="0.82" filter="url(#bl)">
<polyline points="54.8,307.5 74.0,296.3 93.5,328.8" fill="none" stroke="#b0a0cc" stroke-width="2.3" stroke-linejoin="round"/>
<path d="M51.1 303.8L58.5 311.2M58.5 303.8L51.1 311.2" stroke="#b0a0cc" stroke-width="1.4" fill="none"/>
<path d="M70.3 292.6L77.7 300.0M77.7 292.6L70.3 300.0" stroke="#b0a0cc" stroke-width="1.4" fill="none"/>
<path d="M89.8 325.1L97.2 332.5M97.2 325.1L89.8 332.5" stroke="#b0a0cc" stroke-width="1.4" fill="none"/>
</g>
<g opacity="0.82" filter="url(#bl)">
<polyline points="54.8,330.0 74.0,290.0 93.5,298.8" fill="none" stroke="#4bacc6" stroke-width="2.3" stroke-linejoin="round"/>
<path d="M51.1 326.3L58.5 333.7M58.5 326.3L51.1 333.7" stroke="#4bacc6" stroke-width="1.4" fill="none"/>
<path d="M70.3 286.3L77.7 293.7M77.7 286.3L70.3 293.7" stroke="#4bacc6" stroke-width="1.4" fill="none"/>
<path d="M89.8 295.1L97.2 302.5M97.2 295.1L89.8 302.5" stroke="#4bacc6" stroke-width="1.4" fill="none"/>
</g>
<g opacity="0.82" filter="url(#bl)">
<polyline points="54.8,333.8 74.0,295.0 93.5,292.5" fill="none" stroke="#8064a2" stroke-width="2.3" stroke-linejoin="round"/>
<path d="M54.8 329.5L59.1 333.8L54.8 338.1L50.5 333.8Z" fill="#8064a2"/>
<path d="M74.0 290.7L78.3 295.0L74.0 299.3L69.7 295.0Z" fill="#8064a2"/>
<path d="M93.5 288.2L97.8 292.5L93.5 296.8L89.2 292.5Z" fill="#8064a2"/>
</g>
<g opacity="0.82" filter="url(#bl)">
<polyline points="54.8,340.0 74.0,295.0 93.5,325.0" fill="none" stroke="#8a9090" stroke-width="2.3" stroke-linejoin="round"/>
<rect x="51.1" y="336.3" width="7.4" height="7.4" fill="#8a9090"/>
<rect x="70.3" y="291.3" width="7.4" height="7.4" fill="#8a9090"/>
<rect x="89.8" y="321.3" width="7.4" height="7.4" fill="#8a9090"/>
</g>
<g opacity="0.82" filter="url(#bl)">
<polyline points="54.8,335.0 74.0,286.0 93.5,303.0" fill="none" stroke="#d8b088" stroke-width="2.3" stroke-linejoin="round"/>
<circle cx="54.8" cy="335.0" r="3.7" fill="#d8b088"/>
<circle cx="74.0" cy="286.0" r="3.7" fill="#d8b088"/>
<circle cx="93.5" cy="303.0" r="3.7" fill="#d8b088"/>
</g>
<path d="M124.6 271.0V349.8H184.6" fill="none" stroke="#8c8c8c" stroke-width="1.2"/>
<path d="M122.0 271.0H124.6M122.0 297.2H124.6M122.0 323.4H124.6M122.0 349.8H124.6M124.6 349.8V352.4M145.2 349.8V352.4M165.0 349.8V352.4M184.6 349.8V352.4" fill="none" stroke="#8c8c8c" stroke-width="1"/>
<text x="115.5" y="276.2" font-size="10.0" text-anchor="end" fill="#111" textLength="16.6" lengthAdjust="spacingAndGlyphs" stroke="#111" stroke-width="0.45">1000</text>
<text x="115.5" y="302.4" font-size="10.0" text-anchor="end" fill="#111" textLength="12.5" lengthAdjust="spacingAndGlyphs" stroke="#111" stroke-width="0.45">100</text>
<text x="115.5" y="328.6" font-size="10.0" text-anchor="end" fill="#111" textLength="8.3" lengthAdjust="spacingAndGlyphs" stroke="#111" stroke-width="0.45">10</text>
<text x="115.5" y="355.0" font-size="10.0" text-anchor="end" fill="#111" textLength="4.2" lengthAdjust="spacingAndGlyphs" stroke="#111" stroke-width="0.45">1</text>
<text x="141.7" y="268.4" font-size="14.6" fill="#111" textLength="31.7" lengthAdjust="spacingAndGlyphs" stroke="#111" stroke-width="0.55">CSF1</text>
<text x="134.5" y="365.2" font-size="8.9" text-anchor="middle" fill="#111" textLength="14.2" lengthAdjust="spacingAndGlyphs" stroke="#111" stroke-width="0.5">PRE</text>
<text x="154.4" y="365.2" font-size="8.9" text-anchor="middle" fill="#111" textLength="12.2" lengthAdjust="spacingAndGlyphs" stroke="#111" stroke-width="0.5">INF</text>
<text x="175.2" y="365.2" font-size="8.9" text-anchor="middle" fill="#111" textLength="19.6" lengthAdjust="spacingAndGlyphs" stroke="#111" stroke-width="0.5">POST</text>
<g opacity="0.82" filter="url(#bl)">
<polyline points="134.5,317.5 154.4,292.5 175.2,301.9" fill="none" stroke="#f79646" stroke-width="2.3" stroke-linejoin="round"/>
<circle cx="134.5" cy="317.5" r="3.7" fill="#f79646"/>
<circle cx="154.4" cy="292.5" r="3.7" fill="#f79646"/>
<circle cx="175.2" cy="301.9" r="3.7" fill="#f79646"/>
</g>
<g opacity="0.82" filter="url(#bl)">
<polyline points="134.5,323.8 154.4,300.0 175.2,308.8" fill="none" stroke="#8064a2" stroke-width="2.3" stroke-linejoin="round"/>
<path d="M134.5 319.5L138.8 323.8L134.5 328.1L130.2 323.8Z" fill="#8064a2"/>
<path d="M154.4 295.7L158.7 300.0L154.4 304.3L150.1 300.0Z" fill="#8064a2"/>
<path d="M175.2 304.5L179.5 308.8L175.2 313.1L170.9 308.8Z" fill="#8064a2"/>
</g>
<g opacity="0.82" filter="url(#bl)">
<polyline points="134.5,337.5 154.4,298.8 175.2,312.5" fill="none" stroke="#9bbb59" stroke-width="2.3" stroke-linejoin="round"/>
<path d="M134.5 333.3L138.7 341.2L130.3 341.2Z" fill="#9bbb59"/>
<path d="M154.4 294.6L158.6 302.5L150.2 302.5Z" fill="#9bbb59"/>
<path d="M175.2 308.3L179.4 316.2L171.0 316.2Z" fill="#9bbb59"/>
</g>
<g opacity="0.82" filter="url(#bl)">
<polyline points="134.5,320.0 154.4,297.5 175.2,306.0" fill="none" stroke="#5b83c0" stroke-width="2.3" stroke-linejoin="round"/>
<path d="M134.5 315.7L138.8 320.0L134.5 324.3L130.2 320.0Z" fill="#5b83c0"/>
<path d="M154.4 293.2L158.7 297.5L154.4 301.8L150.1 297.5Z" fill="#5b83c0"/>
<path d="M175.2 301.7L179.5 306.0L175.2 310.3L170.9 306.0Z" fill="#5b83c0"/>
</g>
<g opacity="0.82" filter="url(#bl)">
<polyline points="134.5,320.0 154.4,295.0 175.2,311.0" fill="none" stroke="#4bacc6" stroke-width="2.3" stroke-linejoin="round"/>
<path d="M130.8 316.3L138.2 323.7M138.2 316.3L130.8 323.7" stroke="#4bacc6" stroke-width="1.4" fill="none"/>
<path d="M150.7 291.3L158.1 298.7M158.1 291.3L150.7 298.7" stroke="#4bacc6" stroke-width="1.4" fill="none"/>
<path d="M171.5 307.3L178.9 314.7M178.9 307.3L171.5 314.7" stroke="#4bacc6" stroke-width="1.4" fill="none"/>
</g>
<g opacity="0.82" filter="url(#bl)">
<polyline points="134.5,320.0 154.4,305.0 175.2,323.8" fill="none" stroke="#b0a0cc" stroke-width="2.3" stroke-linejoin="round"/>
<path d="M130.8 316.3L138.2 323.7M138.2 316.3L130.8 323.7" stroke="#b0a0cc" stroke-width="1.4" fill="none"/>
<path d="M150.7 301.3L158.1 308.7M158.1 301.3L150.7 308.7" stroke="#b0a0cc" stroke-width="1.4" fill="none"/>
<path d="M171.5 320.1L178.9 327.5M178.9 320.1L171.5 327.5" stroke="#b0a0cc" stroke-width="1.4" fill="none"/>
</g>
<g opacity="0.82" filter="url(#bl)">
<polyline points="134.5,315.0 154.4,295.0 175.2,302.5" fill="none" stroke="#d8b088" stroke-width="2.3" stroke-linejoin="round"/>
<rect x="130.8" y="311.3" width="7.4" height="7.4" fill="#d8b088"/>
<rect x="150.7" y="291.3" width="7.4" height="7.4" fill="#d8b088"/>
<rect x="171.5" y="298.8" width="7.4" height="7.4" fill="#d8b088"/>
</g>
<g opacity="0.82" filter="url(#bl)">
<polyline points="134.5,318.0 154.4,300.0 175.2,317.5" fill="none" stroke="#d8a0b0" stroke-width="2.3" stroke-linejoin="round"/>
<rect x="130.8" y="314.3" width="7.4" height="7.4" fill="#d8a0b0"/>
<rect x="150.7" y="296.3" width="7.4" height="7.4" fill="#d8a0b0"/>
<rect x="171.5" y="313.8" width="7.4" height="7.4" fill="#d8a0b0"/>
</g>
<path d="M204.0 270.2V349.8H262.7" fill="none" stroke="#8c8c8c" stroke-width="1.2"/>
<path d="M201.4 270.2H204.0M201.4 296.7H204.0M201.4 323.2H204.0M201.4 349.8H204.0M204.0 349.8V352.4M223.3 349.8V352.4M243.0 349.8V352.4M262.7 349.8V352.4" fill="none" stroke="#8c8c8c" stroke-width="1"/>
<text x="196.3" y="275.4" font-size="10.0" text-anchor="end" fill="#111" textLength="16.6" lengthAdjust="spacingAndGlyphs" stroke="#111" stroke-width="0.45">1000</text>
<text x="196.3" y="301.9" font-size="10.0" text-anchor="end" fill="#111" textLength="12.5" lengthAdjust="spacingAndGlyphs" stroke="#111" stroke-width="0.45">100</text>
<text x="196.3" y="328.4" font-size="10.0" text-anchor="end" fill="#111" textLength="8.3" lengthAdjust="spacingAndGlyphs" stroke="#111" stroke-width="0.45">10</text>
<text x="196.3" y="355.0" font-size="10.0" text-anchor="end" fill="#111" textLength="4.2" lengthAdjust="spacingAndGlyphs" stroke="#111" stroke-width="0.45">1</text>
<text x="219.9" y="268.4" font-size="14.6" fill="#111" textLength="32.0" lengthAdjust="spacingAndGlyphs" stroke="#111" stroke-width="0.55">CSF2</text>
<text x="213.4" y="365.2" font-size="8.9" text-anchor="middle" fill="#111" textLength="14.2" lengthAdjust="spacingAndGlyphs" stroke="#111" stroke-width="0.5">PRE</text>
<text x="233.1" y="365.2" font-size="8.9" text-anchor="middle" fill="#111" textLength="12.2" lengthAdjust="spacingAndGlyphs" stroke="#111" stroke-width="0.5">INF</text>
<text x="253.1" y="365.2" font-size="8.9" text-anchor="middle" fill="#111" textLength="19.6" lengthAdjust="spacingAndGlyphs" stroke="#111" stroke-width="0.5">POST</text>
<g opacity="0.82" filter="url(#bl)">
<polyline points="213.4,340.0 233.1,296.3 253.1,321.3" fill="none" stroke="#f79646" stroke-width="2.3" stroke-linejoin="round"/>
<circle cx="213.4" cy="340.0" r="3.7" fill="#f79646"/>
<circle cx="233.1" cy="296.3" r="3.7" fill="#f79646"/>
<circle cx="253.1" cy="321.3" r="3.7" fill="#f79646"/>
</g>
<g opacity="0.82" filter="url(#bl)">
<polyline points="213.4,345.0 233.1,306.3 253.1,332.5" fill="none" stroke="#5b83c0" stroke-width="2.3" stroke-linejoin="round"/>
<path d="M213.4 340.7L217.7 345.0L213.4 349.3L209.1 345.0Z" fill="#5b83c0"/>
<path d="M233.1 302.0L237.4 306.3L233.1 310.6L228.8 306.3Z" fill="#5b83c0"/>
<path d="M253.1 328.2L257.4 332.5L253.1 336.8L248.8 332.5Z" fill="#5b83c0"/>
</g>
<g opacity="0.82" filter="url(#bl)">
<polyline points="213.4,347.5 233.1,300.0 253.1,311.3" fill="none" stroke="#9bbb59" stroke-width="2.3" stroke-linejoin="round"/>
<path d="M213.4 343.3L217.6 351.2L209.2 351.2Z" fill="#9bbb59"/>
<path d="M233.1 295.8L237.3 303.7L228.9 303.7Z" fill="#9bbb59"/>
<path d="M253.1 307.1L257.3 315.0L248.9 315.0Z" fill="#9bbb59"/>
</g>
<g opacity="0.82" filter="url(#bl)">
<polyline points="213.4,345.0 233.1,305.0 253.1,317.5" fill="none" stroke="#8064a2" stroke-width="2.3" stroke-linejoin="round"/>
<path d="M213.4 340.7L217.7 345.0L213.4 349.3L209.1 345.0Z" fill="#8064a2"/>
<path d="M233.1 300.7L237.4 305.0L233.1 309.3L228.8 305.0Z" fill="#8064a2"/>
<path d="M253.1 313.2L257.4 317.5L253.1 321.8L248.8 317.5Z" fill="#8064a2"/>
</g>
<g opacity="0.82" filter="url(#bl)">
<polyline points="213.4,340.0 233.1,305.0 253.1,325.0" fill="none" stroke="#b0a0cc" stroke-width="2.3" stroke-linejoin="round"/>
<path d="M209.7 336.3L217.1 343.7M217.1 336.3L209.7 343.7" stroke="#b0a0cc" stroke-width="1.4" fill="none"/>
<path d="M229.4 301.3L236.8 308.7M236.8 301.3L229.4 308.7" stroke="#b0a0cc" stroke-width="1.4" fill="none"/>
<path d="M249.4 321.3L256.8 328.7M256.8 321.3L249.4 328.7" stroke="#b0a0cc" stroke-width="1.4" fill="none"/>
</g>
<g opacity="0.82" filter="url(#bl)">
<polyline points="213.4,335.0 233.1,297.0 253.1,315.0" fill="none" stroke="#a06848" stroke-width="2.3" stroke-linejoin="round"/>
<rect x="209.7" y="331.3" width="7.4" height="7.4" fill="#a06848"/>
<rect x="229.4" y="293.3" width="7.4" height="7.4" fill="#a06848"/>
<rect x="249.4" y="311.3" width="7.4" height="7.4" fill="#a06848"/>
</g>
<g opacity="0.82" filter="url(#bl)">
<polyline points="213.4,342.0 233.1,300.0 253.1,312.5" fill="none" stroke="#4bacc6" stroke-width="2.3" stroke-linejoin="round"/>
<path d="M209.7 338.3L217.1 345.7M217.1 338.3L209.7 345.7" stroke="#4bacc6" stroke-width="1.4" fill="none"/>
<path d="M229.4 296.3L236.8 303.7M236.8 296.3L229.4 303.7" stroke="#4bacc6" stroke-width="1.4" fill="none"/>
<path d="M249.4 308.8L256.8 316.2M256.8 308.8L249.4 316.2" stroke="#4bacc6" stroke-width="1.4" fill="none"/>
</g>
<g opacity="0.82" filter="url(#bl)">
<polyline points="213.4,338.0 233.1,298.0 253.1,310.0" fill="none" stroke="#a8a860" stroke-width="2.3" stroke-linejoin="round"/>
<path d="M213.4 333.8L217.6 341.7L209.2 341.7Z" fill="#a8a860"/>
<path d="M233.1 293.8L237.3 301.7L228.9 301.7Z" fill="#a8a860"/>
<path d="M253.1 305.8L257.3 313.7L248.9 313.7Z" fill="#a8a860"/>
</g>
<path d="M287.0 267.7V349.8H344.6" fill="none" stroke="#8c8c8c" stroke-width="1.2"/>
<path d="M284.4 267.7H287.0M284.4 295.0H287.0M284.4 322.4H287.0M284.4 349.8H287.0M287.0 349.8V352.4M306.5 349.8V352.4M325.8 349.8V352.4M344.6 349.8V352.4" fill="none" stroke="#8c8c8c" stroke-width="1"/>
<text x="278.3" y="272.9" font-size="10.0" text-anchor="end" fill="#111" textLength="16.6" lengthAdjust="spacingAndGlyphs" stroke="#111" stroke-width="0.45">1000</text>
<text x="278.3" y="300.2" font-size="10.0" text-anchor="end" fill="#111" textLength="12.5" lengthAdjust="spacingAndGlyphs" stroke="#111" stroke-width="0.45">100</text>
<text x="278.3" y="327.6" font-size="10.0" text-anchor="end" fill="#111" textLength="8.3" lengthAdjust="spacingAndGlyphs" stroke="#111" stroke-width="0.45">10</text>
<text x="278.3" y="355.0" font-size="10.0" text-anchor="end" fill="#111" textLength="4.2" lengthAdjust="spacingAndGlyphs" stroke="#111" stroke-width="0.45">1</text>
<text x="289.6" y="268.5" font-size="14.6" fill="#111" textLength="50.0" lengthAdjust="spacingAndGlyphs" stroke="#111" stroke-width="0.55">CLEC4A</text>
<text x="297.0" y="365.2" font-size="8.9" text-anchor="middle" fill="#111" textLength="14.2" lengthAdjust="spacingAndGlyphs" stroke="#111" stroke-width="0.5">PRE</text>
<text x="316.1" y="365.2" font-size="8.9" text-anchor="middle" fill="#111" textLength="12.2" lengthAdjust="spacingAndGlyphs" stroke="#111" stroke-width="0.5">INF</text>
<text x="336.0" y="365.2" font-size="8.9" text-anchor="middle" fill="#111" textLength="19.6" lengthAdjust="spacingAndGlyphs" stroke="#111" stroke-width="0.5">POST</text>
<g opacity="0.82" filter="url(#bl)">
<polyline points="297.0,285.6 316.1,323.8 336.0,300.6" fill="none" stroke="#8a9090" stroke-width="2.3" stroke-linejoin="round"/>
<rect x="293.3" y="281.9" width="7.4" height="7.4" fill="#8a9090"/>
<rect x="312.4" y="320.1" width="7.4" height="7.4" fill="#8a9090"/>
<rect x="332.3" y="296.9" width="7.4" height="7.4" fill="#8a9090"/>
</g>
<g opacity="0.82" filter="url(#bl)">
<polyline points="297.0,290.0 316.1,320.0 336.0,305.0" fill="none" stroke="#4bacc6" stroke-width="2.3" stroke-linejoin="round"/>
<path d="M293.3 286.3L300.7 293.7M300.7 286.3L293.3 293.7" stroke="#4bacc6" stroke-width="1.4" fill="none"/>
<path d="M312.4 316.3L319.8 323.7M319.8 316.3L312.4 323.7" stroke="#4bacc6" stroke-width="1.4" fill="none"/>
<path d="M332.3 301.3L339.7 308.7M339.7 301.3L332.3 308.7" stroke="#4bacc6" stroke-width="1.4" fill="none"/>
</g>
<g opacity="0.82" filter="url(#bl)">
<polyline points="297.0,307.5 316.1,322.5 336.0,311.3" fill="none" stroke="#d8b088" stroke-width="2.3" stroke-linejoin="round"/>
<circle cx="297.0" cy="307.5" r="3.7" fill="#d8b088"/>
<circle cx="316.1" cy="322.5" r="3.7" fill="#d8b088"/>
<circle cx="336.0" cy="311.3" r="3.7" fill="#d8b088"/>
</g>
<g opacity="0.82" filter="url(#bl)">
<polyline points="297.0,318.0 316.1,318.8 336.0,325.0" fill="none" stroke="#5b83c0" stroke-width="2.3" stroke-linejoin="round"/>
<path d="M297.0 313.7L301.3 318.0L297.0 322.3L292.7 318.0Z" fill="#5b83c0"/>
<path d="M316.1 314.5L320.4 318.8L316.1 323.1L311.8 318.8Z" fill="#5b83c0"/>
<path d="M336.0 320.7L340.3 325.0L336.0 329.3L331.7 325.0Z" fill="#5b83c0"/>
</g>
<g opacity="0.82" filter="url(#bl)">
<polyline points="297.0,307.0 316.1,323.8 336.0,310.0" fill="none" stroke="#f79646" stroke-width="2.3" stroke-linejoin="round"/>
<circle cx="297.0" cy="307.0" r="3.7" fill="#f79646"/>
<circle cx="316.1" cy="323.8" r="3.7" fill="#f79646"/>
<circle cx="336.0" cy="310.0" r="3.7" fill="#f79646"/>
</g>
<g opacity="0.82" filter="url(#bl)">
<polyline points="297.0,289.0 316.1,333.8 336.0,305.0" fill="none" stroke="#9bbb59" stroke-width="2.3" stroke-linejoin="round"/>
<rect x="293.3" y="285.3" width="7.4" height="7.4" fill="#9bbb59"/>
<rect x="312.4" y="330.1" width="7.4" height="7.4" fill="#9bbb59"/>
<rect x="332.3" y="301.3" width="7.4" height="7.4" fill="#9bbb59"/>
</g>
<g opacity="0.82" filter="url(#bl)">
<polyline points="297.0,291.0 316.1,325.0 336.0,320.0" fill="none" stroke="#8064a2" stroke-width="2.3" stroke-linejoin="round"/>
<path d="M297.0 286.7L301.3 291.0L297.0 295.3L292.7 291.0Z" fill="#8064a2"/>
<path d="M316.1 320.7L320.4 325.0L316.1 329.3L311.8 325.0Z" fill="#8064a2"/>
<path d="M336.0 315.7L340.3 320.0L336.0 324.3L331.7 320.0Z" fill="#8064a2"/>
</g>
<g opacity="0.82" filter="url(#bl)">
<polyline points="297.0,306.0 316.1,330.0 336.0,332.5" fill="none" stroke="#b0a0cc" stroke-width="2.3" stroke-linejoin="round"/>
<path d="M293.3 302.3L300.7 309.7M300.7 302.3L293.3 309.7" stroke="#b0a0cc" stroke-width="1.4" fill="none"/>
<path d="M312.4 326.3L319.8 333.7M319.8 326.3L312.4 333.7" stroke="#b0a0cc" stroke-width="1.4" fill="none"/>
<path d="M332.3 328.8L339.7 336.2M339.7 328.8L332.3 336.2" stroke="#b0a0cc" stroke-width="1.4" fill="none"/>
</g>
<g opacity="0.82" filter="url(#bl)">
<polyline points="297.0,286.0 316.1,322.0 336.0,301.0" fill="none" stroke="#a06848" stroke-width="2.3" stroke-linejoin="round"/>
<rect x="293.3" y="282.3" width="7.4" height="7.4" fill="#a06848"/>
<rect x="312.4" y="318.3" width="7.4" height="7.4" fill="#a06848"/>
<rect x="332.3" y="297.3" width="7.4" height="7.4" fill="#a06848"/>
</g>
<path d="M375.3 267.0V349.8H435.8" fill="none" stroke="#8c8c8c" stroke-width="1.2"/>
<path d="M372.7 267.0H375.3M372.7 308.4H375.3M372.7 349.8H375.3M375.3 349.8V352.4M395.8 349.8V352.4M415.6 349.8V352.4M435.8 349.8V352.4" fill="none" stroke="#8c8c8c" stroke-width="1"/>
<text x="367.0" y="272.2" font-size="10.0" text-anchor="end" fill="#111" textLength="16.6" lengthAdjust="spacingAndGlyphs" stroke="#111" stroke-width="0.45">1000</text>
<text x="367.0" y="313.6" font-size="10.0" text-anchor="end" fill="#111" textLength="12.5" lengthAdjust="spacingAndGlyphs" stroke="#111" stroke-width="0.45">100</text>
<text x="367.0" y="355.0" font-size="10.0" text-anchor="end" fill="#111" textLength="8.3" lengthAdjust="spacingAndGlyphs" stroke="#111" stroke-width="0.45">10</text>
<text x="387.9" y="267.4" font-size="14.6" fill="#111" textLength="33.0" lengthAdjust="spacingAndGlyphs" stroke="#111" stroke-width="0.55">TLR1</text>
<text x="386.1" y="365.2" font-size="8.9" text-anchor="middle" fill="#111" textLength="14.2" lengthAdjust="spacingAndGlyphs" stroke="#111" stroke-width="0.5">PRE</text>
<text x="406.1" y="365.2" font-size="8.9" text-anchor="middle" fill="#111" textLength="12.2" lengthAdjust="spacingAndGlyphs" stroke="#111" stroke-width="0.5">INF</text>
<text x="426.6" y="365.2" font-size="8.9" text-anchor="middle" fill="#111" textLength="19.6" lengthAdjust="spacingAndGlyphs" stroke="#111" stroke-width="0.5">POST</text>
<g opacity="0.82" filter="url(#bl)">
<polyline points="386.1,286.9 406.1,338.8 426.6,308.0" fill="none" stroke="#8a9090" stroke-width="2.3" stroke-linejoin="round"/>
<rect x="382.4" y="283.2" width="7.4" height="7.4" fill="#8a9090"/>
<rect x="402.4" y="335.1" width="7.4" height="7.4" fill="#8a9090"/>
<rect x="422.9" y="304.3" width="7.4" height="7.4" fill="#8a9090"/>
</g>
<g opacity="0.82" filter="url(#bl)">
<polyline points="386.1,290.0 406.1,321.3 426.6,312.5" fill="none" stroke="#5b83c0" stroke-width="2.3" stroke-linejoin="round"/>
<path d="M386.1 285.7L390.4 290.0L386.1 294.3L381.8 290.0Z" fill="#5b83c0"/>
<path d="M406.1 317.0L410.4 321.3L406.1 325.6L401.8 321.3Z" fill="#5b83c0"/>
<path d="M426.6 308.2L430.9 312.5L426.6 316.8L422.3 312.5Z" fill="#5b83c0"/>
</g>
<g opacity="0.82" filter="url(#bl)">
<polyline points="386.1,296.3 406.1,315.0 426.6,298.8" fill="none" stroke="#d89090" stroke-width="2.3" stroke-linejoin="round"/>
</g>
<g opacity="0.82" filter="url(#bl)">
<polyline points="386.1,305.0 406.1,327.5 426.6,316.3" fill="none" stroke="#f79646" stroke-width="2.3" stroke-linejoin="round"/>
<circle cx="386.1" cy="305.0" r="3.7" fill="#f79646"/>
<circle cx="406.1" cy="327.5" r="3.7" fill="#f79646"/>
<circle cx="426.6" cy="316.3" r="3.7" fill="#f79646"/>
</g>
<g opacity="0.82" filter="url(#bl)">
<polyline points="386.1,292.0 406.1,330.0 426.6,307.5" fill="none" stroke="#c0504d" stroke-width="2.3" stroke-linejoin="round"/>
<rect x="382.4" y="288.3" width="7.4" height="7.4" fill="#c0504d"/>
<rect x="402.4" y="326.3" width="7.4" height="7.4" fill="#c0504d"/>
<rect x="422.9" y="303.8" width="7.4" height="7.4" fill="#c0504d"/>
</g>
<g opacity="0.82" filter="url(#bl)">
<polyline points="386.1,300.0 406.1,335.0 426.6,317.5" fill="none" stroke="#9bbb59" stroke-width="2.3" stroke-linejoin="round"/>
<path d="M386.1 295.8L390.3 303.7L381.9 303.7Z" fill="#9bbb59"/>
<path d="M406.1 330.8L410.3 338.7L401.9 338.7Z" fill="#9bbb59"/>
<path d="M426.6 313.3L430.8 321.2L422.4 321.2Z" fill="#9bbb59"/>
</g>
<g opacity="0.82" filter="url(#bl)">
<polyline points="386.1,298.0 406.1,337.5 426.6,328.8" fill="none" stroke="#3a5a8c" stroke-width="2.3" stroke-linejoin="round"/>
<path d="M386.1 293.7L390.4 298.0L386.1 302.3L381.8 298.0Z" fill="#3a5a8c"/>
<path d="M406.1 333.2L410.4 337.5L406.1 341.8L401.8 337.5Z" fill="#3a5a8c"/>
<path d="M426.6 324.5L430.9 328.8L426.6 333.1L422.3 328.8Z" fill="#3a5a8c"/>
</g>
<g opacity="0.82" filter="url(#bl)">
<polyline points="386.1,295.0 406.1,330.0 426.6,315.0" fill="none" stroke="#4bacc6" stroke-width="2.3" stroke-linejoin="round"/>
<path d="M382.4 291.3L389.8 298.7M389.8 291.3L382.4 298.7" stroke="#4bacc6" stroke-width="1.4" fill="none"/>
<path d="M402.4 326.3L409.8 333.7M409.8 326.3L402.4 333.7" stroke="#4bacc6" stroke-width="1.4" fill="none"/>
<path d="M422.9 311.3L430.3 318.7M430.3 311.3L422.9 318.7" stroke="#4bacc6" stroke-width="1.4" fill="none"/>
</g>
<g opacity="0.82" filter="url(#bl)">
<polyline points="386.1,292.0 406.1,318.0 426.6,310.0" fill="none" stroke="#b0a0cc" stroke-width="2.3" stroke-linejoin="round"/>
<path d="M382.4 288.3L389.8 295.7M389.8 288.3L382.4 295.7" stroke="#b0a0cc" stroke-width="1.4" fill="none"/>
<path d="M402.4 314.3L409.8 321.7M409.8 314.3L402.4 321.7" stroke="#b0a0cc" stroke-width="1.4" fill="none"/>
<path d="M422.9 306.3L430.3 313.7M430.3 306.3L422.9 313.7" stroke="#b0a0cc" stroke-width="1.4" fill="none"/>
</g>
<path d="M462.6 267.6V349.8H519.0" fill="none" stroke="#8c8c8c" stroke-width="1.2"/>
<path d="M460.0 267.6H462.6M460.0 288.2H462.6M460.0 308.7H462.6M460.0 329.3H462.6M460.0 349.8H462.6M462.6 349.8V352.4M481.5 349.8V352.4M500.8 349.8V352.4M519.0 349.8V352.4" fill="none" stroke="#8c8c8c" stroke-width="1"/>
<text x="453.7" y="272.8" font-size="10.0" text-anchor="end" fill="#111" textLength="16.6" lengthAdjust="spacingAndGlyphs" stroke="#111" stroke-width="0.45">1000</text>
<text x="453.7" y="293.4" font-size="10.0" text-anchor="end" fill="#111" textLength="12.5" lengthAdjust="spacingAndGlyphs" stroke="#111" stroke-width="0.45">100</text>
<text x="453.7" y="313.9" font-size="10.0" text-anchor="end" fill="#111" textLength="8.3" lengthAdjust="spacingAndGlyphs" stroke="#111" stroke-width="0.45">10</text>
<text x="453.7" y="334.5" font-size="10.0" text-anchor="end" fill="#111" textLength="4.2" lengthAdjust="spacingAndGlyphs" stroke="#111" stroke-width="0.45">1</text>
<text x="453.7" y="355.0" font-size="10.0" text-anchor="end" fill="#111" textLength="10.6" lengthAdjust="spacingAndGlyphs" stroke="#111" stroke-width="0.45">0.1</text>
<text x="470.4" y="267.9" font-size="14.6" fill="#111" textLength="44.0" lengthAdjust="spacingAndGlyphs" stroke="#111" stroke-width="0.55">LILRB4</text>
<text x="471.8" y="365.2" font-size="8.9" text-anchor="middle" fill="#111" textLength="14.2" lengthAdjust="spacingAndGlyphs" stroke="#111" stroke-width="0.5">PRE</text>
<text x="490.9" y="365.2" font-size="8.9" text-anchor="middle" fill="#111" textLength="12.2" lengthAdjust="spacingAndGlyphs" stroke="#111" stroke-width="0.5">INF</text>
<text x="510.2" y="365.2" font-size="8.9" text-anchor="middle" fill="#111" textLength="19.6" lengthAdjust="spacingAndGlyphs" stroke="#111" stroke-width="0.5">POST</text>
<g opacity="0.82" filter="url(#bl)">
<polyline points="471.8,284.0 490.9,339.0 510.2,294.8" fill="none" stroke="#4bacc6" stroke-width="2.3" stroke-linejoin="round"/>
<path d="M468.1 280.3L475.5 287.7M475.5 280.3L468.1 287.7" stroke="#4bacc6" stroke-width="1.4" fill="none"/>
<path d="M487.2 335.3L494.6 342.7M494.6 335.3L487.2 342.7" stroke="#4bacc6" stroke-width="1.4" fill="none"/>
<path d="M506.5 291.1L513.9 298.5M513.9 291.1L506.5 298.5" stroke="#4bacc6" stroke-width="1.4" fill="none"/>
</g>
<g opacity="0.82" filter="url(#bl)">
<polyline points="471.8,289.4 490.9,303.2 510.2,297.8" fill="none" stroke="#8c3a38" stroke-width="2.3" stroke-linejoin="round"/>
<rect x="468.1" y="285.7" width="7.4" height="7.4" fill="#8c3a38"/>
<rect x="487.2" y="299.5" width="7.4" height="7.4" fill="#8c3a38"/>
<rect x="506.5" y="294.1" width="7.4" height="7.4" fill="#8c3a38"/>
</g>
<g opacity="0.82" filter="url(#bl)">
<polyline points="471.8,297.2 490.9,313.3 510.2,309.0" fill="none" stroke="#f79646" stroke-width="2.3" stroke-linejoin="round"/>
<circle cx="471.8" cy="297.2" r="3.7" fill="#f79646"/>
<circle cx="490.9" cy="313.3" r="3.7" fill="#f79646"/>
<circle cx="510.2" cy="309.0" r="3.7" fill="#f79646"/>
</g>
<g opacity="0.82" filter="url(#bl)">
<polyline points="471.8,303.2 490.9,334.2 510.2,315.0" fill="none" stroke="#8064a2" stroke-width="2.3" stroke-linejoin="round"/>
<path d="M471.8 298.9L476.1 303.2L471.8 307.5L467.5 303.2Z" fill="#8064a2"/>
<path d="M490.9 329.9L495.2 334.2L490.9 338.5L486.6 334.2Z" fill="#8064a2"/>
<path d="M510.2 310.7L514.5 315.0L510.2 319.3L505.9 315.0Z" fill="#8064a2"/>
</g>
<g opacity="0.82" filter="url(#bl)">
<polyline points="471.8,303.0 490.9,321.0 510.2,317.5" fill="none" stroke="#5b83c0" stroke-width="2.3" stroke-linejoin="round"/>
<path d="M471.8 298.7L476.1 303.0L471.8 307.3L467.5 303.0Z" fill="#5b83c0"/>
<path d="M490.9 316.7L495.2 321.0L490.9 325.3L486.6 321.0Z" fill="#5b83c0"/>
<path d="M510.2 313.2L514.5 317.5L510.2 321.8L505.9 317.5Z" fill="#5b83c0"/>
</g>
<g opacity="0.82" filter="url(#bl)">
<polyline points="471.8,300.0 490.9,331.8 510.2,304.3" fill="none" stroke="#d8a0b0" stroke-width="2.3" stroke-linejoin="round"/>
<path d="M468.1 296.3L475.5 303.7M475.5 296.3L468.1 303.7" stroke="#d8a0b0" stroke-width="1.4" fill="none"/>
<path d="M487.2 328.1L494.6 335.5M494.6 328.1L487.2 335.5" stroke="#d8a0b0" stroke-width="1.4" fill="none"/>
<path d="M506.5 300.6L513.9 308.0M513.9 300.6L506.5 308.0" stroke="#d8a0b0" stroke-width="1.4" fill="none"/>
</g>
<g opacity="0.82" filter="url(#bl)">
<polyline points="471.8,290.0 490.9,339.0 510.2,299.6" fill="none" stroke="#a8a860" stroke-width="2.3" stroke-linejoin="round"/>
<path d="M471.8 285.8L476.0 293.7L467.6 293.7Z" fill="#a8a860"/>
<path d="M490.9 334.8L495.1 342.7L486.7 342.7Z" fill="#a8a860"/>
<path d="M510.2 295.4L514.4 303.3L506.0 303.3Z" fill="#a8a860"/>
</g>
<g opacity="0.82" filter="url(#bl)">
<polyline points="471.8,295.0 490.9,317.5 510.2,315.0" fill="none" stroke="#8db0da" stroke-width="2.3" stroke-linejoin="round"/>
<circle cx="471.8" cy="295.0" r="3.7" fill="#8db0da"/>
<circle cx="490.9" cy="317.5" r="3.7" fill="#8db0da"/>
<circle cx="510.2" cy="315.0" r="3.7" fill="#8db0da"/>
</g>
<g opacity="0.82" filter="url(#bl)">
<polyline points="471.8,286.0 490.9,338.0 510.2,300.0" fill="none" stroke="#8a9090" stroke-width="2.3" stroke-linejoin="round"/>
<rect x="468.1" y="282.3" width="7.4" height="7.4" fill="#8a9090"/>
<rect x="487.2" y="334.3" width="7.4" height="7.4" fill="#8a9090"/>
<rect x="506.5" y="296.3" width="7.4" height="7.4" fill="#8a9090"/>
</g>
<path d="M86.3 411.1V811.6H238.5" fill="none" stroke="#8c8c8c" stroke-width="1.3"/>
<path d="M82.1 411.1H86.3M82.1 511.7H86.3M82.1 612.1H86.3M82.1 711.9H86.3M82.1 811.6H86.3M86.3 811.6V815.1M137.7 811.6V815.1M188.8 811.6V815.1M238.5 811.6V815.1" fill="none" stroke="#8c8c8c" stroke-width="1.1"/>
<text x="75.6" y="416.7" font-size="10.6" text-anchor="end" font-weight="bold" fill="#1a1a1a" textLength="28.9" lengthAdjust="spacingAndGlyphs">10000</text>
<text x="75.6" y="517.3" font-size="10.6" text-anchor="end" font-weight="bold" fill="#1a1a1a" textLength="23.1" lengthAdjust="spacingAndGlyphs">1000</text>
<text x="75.6" y="617.7" font-size="10.6" text-anchor="end" font-weight="bold" fill="#1a1a1a" textLength="17.3" lengthAdjust="spacingAndGlyphs">100</text>
<text x="75.6" y="717.5" font-size="10.6" text-anchor="end" font-weight="bold" fill="#1a1a1a" textLength="11.6" lengthAdjust="spacingAndGlyphs">10</text>
<text x="75.6" y="817.2" font-size="10.6" text-anchor="end" font-weight="bold" fill="#1a1a1a" textLength="5.8" lengthAdjust="spacingAndGlyphs">1</text>
<text x="112.2" y="830.2" font-size="11.4" text-anchor="middle" fill="#1a1a1a" textLength="15.2" lengthAdjust="spacingAndGlyphs" stroke="#1a1a1a" stroke-width="0.45">Pre</text>
<text x="161.4" y="830.2" font-size="11.4" text-anchor="middle" fill="#1a1a1a" textLength="12.2" lengthAdjust="spacingAndGlyphs" stroke="#1a1a1a" stroke-width="0.45">Inf</text>
<text x="213.9" y="830.2" font-size="11.4" text-anchor="middle" fill="#1a1a1a" textLength="20.6" lengthAdjust="spacingAndGlyphs" stroke="#1a1a1a" stroke-width="0.45">Post</text>
<text x="112.1" y="392.8" font-size="12.8" font-weight="bold" fill="#111" textLength="170.3" lengthAdjust="spacingAndGlyphs">Higher expression post-infusion</text>
<g opacity="0.9" filter="url(#bl)">
<polyline points="111.5,747.2 163.7,742.3 212.9,705.0" fill="none" stroke="#9aa6d8" stroke-width="1.5" stroke-linejoin="round"/>
<circle cx="111.5" cy="747.2" r="4.0" fill="#9aa6d8"/>
<circle cx="163.7" cy="742.3" r="4.0" fill="#9aa6d8"/>
<circle cx="212.9" cy="705.0" r="4.0" fill="#9aa6d8"/>
</g>
<g opacity="0.9" filter="url(#bl)">
<polyline points="111.5,756.0 163.7,746.5 212.9,708.0" fill="none" stroke="#f3b870" stroke-width="1.5" stroke-linejoin="round"/>
<circle cx="111.5" cy="756.0" r="4.0" fill="#f3b870"/>
<circle cx="163.7" cy="746.5" r="4.0" fill="#f3b870"/>
<circle cx="212.9" cy="708.0" r="4.0" fill="#f3b870"/>
</g>
<g opacity="0.9" filter="url(#bl)">
<polyline points="111.5,770.8 163.7,736.2 212.9,701.4" fill="none" stroke="#5c2a28" stroke-width="1.5" stroke-linejoin="round"/>
<rect x="107.5" y="766.8" width="8.0" height="8.0" fill="#5c2a28"/>
<rect x="159.7" y="732.2" width="8.0" height="8.0" fill="#5c2a28"/>
<rect x="208.9" y="697.4" width="8.0" height="8.0" fill="#5c2a28"/>
</g>
<g opacity="0.9" filter="url(#bl)">
<polyline points="111.5,770.8 163.7,726.0 212.9,696.5" fill="none" stroke="#7a9050" stroke-width="1.5" stroke-linejoin="round"/>
<path d="M111.5 766.3L116.0 774.8L107.0 774.8Z" fill="#7a9050"/>
<path d="M163.7 721.5L168.2 730.0L159.2 730.0Z" fill="#7a9050"/>
<path d="M212.9 692.0L217.4 700.5L208.4 700.5Z" fill="#7a9050"/>
</g>
<g opacity="0.9" filter="url(#bl)">
<polyline points="111.5,756.0 163.7,722.0 212.9,694.0" fill="none" stroke="#2f3282" stroke-width="1.5" stroke-linejoin="round"/>
<path d="M107.5 752.0L115.5 760.0M115.5 752.0L107.5 760.0" stroke="#2f3282" stroke-width="1.4" fill="none"/>
<path d="M159.7 718.0L167.7 726.0M167.7 718.0L159.7 726.0" stroke="#2f3282" stroke-width="1.4" fill="none"/>
<path d="M208.9 690.0L216.9 698.0M216.9 690.0L208.9 698.0" stroke="#2f3282" stroke-width="1.4" fill="none"/>
</g>
<g opacity="0.9" filter="url(#bl)">
<polyline points="111.5,710.2 163.7,691.1 212.9,688.0" fill="none" stroke="#4a86a0" stroke-width="1.5" stroke-linejoin="round"/>
<rect x="107.5" y="706.2" width="8.0" height="8.0" fill="#4a86a0"/>
<rect x="159.7" y="687.1" width="8.0" height="8.0" fill="#4a86a0"/>
<rect x="208.9" y="684.0" width="8.0" height="8.0" fill="#4a86a0"/>
</g>
<g opacity="0.9" filter="url(#bl)">
<polyline points="111.5,710.0 163.7,700.0 212.9,681.0" fill="none" stroke="#3a58a8" stroke-width="1.5" stroke-linejoin="round"/>
<path d="M107.5 706.0L115.5 714.0M115.5 706.0L107.5 714.0" stroke="#3a58a8" stroke-width="1.4" fill="none"/>
<path d="M159.7 696.0L167.7 704.0M167.7 696.0L159.7 704.0" stroke="#3a58a8" stroke-width="1.4" fill="none"/>
<path d="M208.9 677.0L216.9 685.0M216.9 677.0L208.9 685.0" stroke="#3a58a8" stroke-width="1.4" fill="none"/>
</g>
<g opacity="0.9" filter="url(#bl)">
<polyline points="111.5,727.7 163.7,700.0 212.9,679.0" fill="none" stroke="#86aed6" stroke-width="1.5" stroke-linejoin="round"/>
<rect x="107.5" y="723.7" width="8.0" height="8.0" fill="#86aed6"/>
<rect x="159.7" y="696.0" width="8.0" height="8.0" fill="#86aed6"/>
<rect x="208.9" y="675.0" width="8.0" height="8.0" fill="#86aed6"/>
</g>
<g opacity="0.9" filter="url(#bl)">
<polyline points="111.5,700.0 163.7,621.0 212.9,617.5" fill="none" stroke="#a8ca5c" stroke-width="1.5" stroke-linejoin="round"/>
<circle cx="111.5" cy="700.0" r="4.0" fill="#a8ca5c"/>
<circle cx="163.7" cy="621.0" r="4.0" fill="#a8ca5c"/>
<circle cx="212.9" cy="617.5" r="4.0" fill="#a8ca5c"/>
</g>
<g opacity="0.9" filter="url(#bl)">
<polyline points="111.5,701.4 163.7,718.0 212.9,674.0" fill="none" stroke="#f5c8a0" stroke-width="1.5" stroke-linejoin="round"/>
<circle cx="111.5" cy="701.4" r="4.0" fill="#f5c8a0"/>
<circle cx="163.7" cy="718.0" r="4.0" fill="#f5c8a0"/>
<circle cx="212.9" cy="674.0" r="4.0" fill="#f5c8a0"/>
</g>
<g opacity="0.9" filter="url(#bl)">
<polyline points="111.5,702.0 163.7,672.3 212.9,668.0" fill="none" stroke="#e8923c" stroke-width="1.5" stroke-linejoin="round"/>
<circle cx="111.5" cy="702.0" r="4.0" fill="#e8923c"/>
<circle cx="163.7" cy="672.3" r="4.0" fill="#e8923c"/>
<circle cx="212.9" cy="668.0" r="4.0" fill="#e8923c"/>
</g>
<g opacity="0.9" filter="url(#bl)">
<polyline points="111.5,725.0 163.7,690.0 212.9,662.0" fill="none" stroke="#6688a8" stroke-width="1.5" stroke-linejoin="round"/>
<path d="M107.5 721.0L115.5 729.0M115.5 721.0L107.5 729.0" stroke="#6688a8" stroke-width="1.4" fill="none"/>
<path d="M159.7 686.0L167.7 694.0M167.7 686.0L159.7 694.0" stroke="#6688a8" stroke-width="1.4" fill="none"/>
<path d="M208.9 658.0L216.9 666.0M216.9 658.0L208.9 666.0" stroke="#6688a8" stroke-width="1.4" fill="none"/>
</g>
<g opacity="0.9" filter="url(#bl)">
<polyline points="111.5,731.7 163.7,668.0 212.9,663.0" fill="none" stroke="#5a58b0" stroke-width="1.9" stroke-linejoin="round"/>
<path d="M111.5 727.1L116.1 731.7L111.5 736.3L106.9 731.7Z" fill="#5a58b0"/>
<path d="M163.7 663.4L168.3 668.0L163.7 672.6L159.1 668.0Z" fill="#5a58b0"/>
<path d="M212.9 658.4L217.5 663.0L212.9 667.6L208.3 663.0Z" fill="#5a58b0"/>
</g>
<g opacity="0.9" filter="url(#bl)">
<polyline points="111.5,682.4 163.7,659.5 212.9,649.5" fill="none" stroke="#94bc6e" stroke-width="1.5" stroke-linejoin="round"/>
<rect x="107.5" y="678.4" width="8.0" height="8.0" fill="#94bc6e"/>
<rect x="159.7" y="655.5" width="8.0" height="8.0" fill="#94bc6e"/>
<rect x="208.9" y="645.5" width="8.0" height="8.0" fill="#94bc6e"/>
</g>
<g opacity="0.9" filter="url(#bl)">
<polyline points="111.5,674.3 163.7,647.4 212.9,643.5" fill="none" stroke="#b87030" stroke-width="1.5" stroke-linejoin="round"/>
<circle cx="111.5" cy="674.3" r="4.0" fill="#b87030"/>
<circle cx="163.7" cy="647.4" r="4.0" fill="#b87030"/>
<circle cx="212.9" cy="643.5" r="4.0" fill="#b87030"/>
</g>
<g opacity="0.9" filter="url(#bl)">
<polyline points="111.5,641.0 163.7,647.4 212.9,609.2" fill="none" stroke="#9c9cd2" stroke-width="1.5" stroke-linejoin="round"/>
<path d="M107.5 637.0L115.5 645.0M115.5 637.0L107.5 645.0" stroke="#9c9cd2" stroke-width="1.4" fill="none"/>
<path d="M159.7 643.4L167.7 651.4M167.7 643.4L159.7 651.4" stroke="#9c9cd2" stroke-width="1.4" fill="none"/>
<path d="M208.9 605.2L216.9 613.2M216.9 605.2L208.9 613.2" stroke="#9c9cd2" stroke-width="1.4" fill="none"/>
</g>
<g opacity="0.9" filter="url(#bl)">
<polyline points="111.5,646.0 163.7,624.0 212.9,602.0" fill="none" stroke="#8e3c3c" stroke-width="1.7" stroke-linejoin="round"/>
</g>
<g opacity="0.9" filter="url(#bl)">
<polyline points="111.5,627.7 163.7,579.2 212.9,573.0" fill="none" stroke="#b2403c" stroke-width="1.7" stroke-linejoin="round"/>
<path d="M107.5 623.7L115.5 631.7M115.5 623.7L107.5 631.7" stroke="#b2403c" stroke-width="1.4" fill="none"/>
<path d="M159.7 575.2L167.7 583.2M167.7 575.2L159.7 583.2" stroke="#b2403c" stroke-width="1.4" fill="none"/>
<path d="M208.9 569.0L216.9 577.0M216.9 569.0L208.9 577.0" stroke="#b2403c" stroke-width="1.4" fill="none"/>
</g>
<g opacity="0.9" filter="url(#bl)">
<polyline points="111.5,573.0 163.7,567.8 212.9,536.2" fill="none" stroke="#a5cbe0" stroke-width="1.7" stroke-linejoin="round"/>
<path d="M107.5 569.0L115.5 577.0M115.5 569.0L107.5 577.0M111.5 569.0L111.5 577.0" stroke="#a5cbe0" stroke-width="1.6" fill="none"/>
<path d="M159.7 563.8L167.7 571.8M167.7 563.8L159.7 571.8M163.7 563.8L163.7 571.8" stroke="#a5cbe0" stroke-width="1.6" fill="none"/>
<path d="M208.9 532.2L216.9 540.2M216.9 532.2L208.9 540.2M212.9 532.2L212.9 540.2" stroke="#a5cbe0" stroke-width="1.6" fill="none"/>
</g>
<g opacity="0.9" filter="url(#bl)">
<polyline points="111.5,488.6 163.7,474.5 212.9,445.5" fill="none" stroke="#554e9c" stroke-width="2.1999999999999997" stroke-linejoin="round"/>
<circle cx="111.5" cy="488.6" r="4.0" fill="#554e9c"/>
<circle cx="163.7" cy="474.5" r="4.0" fill="#554e9c"/>
<circle cx="212.9" cy="445.5" r="4.0" fill="#554e9c"/>
</g>
<g opacity="0.9" filter="url(#bl)">
<polyline points="111.5,480.6 163.7,447.7 212.9,412.2" fill="none" stroke="#dca89c" stroke-width="1.7999999999999998" stroke-linejoin="round"/>
<rect x="107.5" y="476.6" width="8.0" height="8.0" fill="#dca89c"/>
<rect x="159.7" y="443.7" width="8.0" height="8.0" fill="#dca89c"/>
<rect x="208.9" y="408.2" width="8.0" height="8.0" fill="#dca89c"/>
</g>
<g opacity="0.9" filter="url(#bl)">
<polyline points="111.5,482.0 163.7,453.8 212.9,438.5" fill="none" stroke="#2e2c68" stroke-width="2.1999999999999997" stroke-linejoin="round"/>
<path d="M107.5 478.0L115.5 486.0M115.5 478.0L107.5 486.0" stroke="#2e2c68" stroke-width="1.4" fill="none"/>
<path d="M159.7 449.8L167.7 457.8M167.7 449.8L159.7 457.8" stroke="#2e2c68" stroke-width="1.4" fill="none"/>
<path d="M208.9 434.5L216.9 442.5M216.9 434.5L208.9 442.5" stroke="#2e2c68" stroke-width="1.4" fill="none"/>
</g>
<g opacity="0.9" filter="url(#bl)">
<polyline points="111.5,719.6 163.7,706.2 212.9,635.4" fill="none" stroke="#e2281e" stroke-width="3.9" stroke-linejoin="round"/>
<path d="M111.5 715.1L116.0 723.6L107.0 723.6Z" fill="#e2281e"/>
<path d="M163.7 701.7L168.2 710.2L159.2 710.2Z" fill="#e2281e"/>
<path d="M212.9 630.9L217.4 639.4L208.4 639.4Z" fill="#e2281e"/>
</g>
<text x="221.2" y="414.7" font-size="8.4" font-weight="bold" fill="#e3a0a0" textLength="19.0" lengthAdjust="spacingAndGlyphs">GNLY</text>
<text x="217.5" y="440.5" font-size="8.4" font-weight="bold" fill="#2a2860" textLength="17.5" lengthAdjust="spacingAndGlyphs">CCL5</text>
<text x="217.5" y="455.3" font-size="8.4" font-weight="bold" fill="#5a50a0" textLength="17.5" lengthAdjust="spacingAndGlyphs">PRF1</text>
<text x="213.5" y="529.0" font-size="8.4" font-weight="bold" fill="#9cc0d8" textLength="22.5" lengthAdjust="spacingAndGlyphs">TBX21</text>
<text x="221.0" y="574.5" font-size="8.4" font-weight="bold" fill="#a83838" textLength="17.0" lengthAdjust="spacingAndGlyphs">GFI1</text>
<text x="221.1" y="603.6" font-size="8.4" font-weight="bold" fill="#7a3030" textLength="21.2" lengthAdjust="spacingAndGlyphs">IGF2R</text>
<text x="221.9" y="613.0" font-size="8.4" font-weight="bold" fill="#8890c8" textLength="21.9" lengthAdjust="spacingAndGlyphs">LTB4R</text>
<text x="221.1" y="620.9" font-size="8.4" font-weight="bold" fill="#a8c060" textLength="29.8" lengthAdjust="spacingAndGlyphs">PDGFRB</text>
<text x="219.6" y="635.6" font-size="8.4" font-weight="bold" fill="#c01020" textLength="30.2" lengthAdjust="spacingAndGlyphs">KIR2DL2</text>
<text x="221.1" y="646.5" font-size="8.4" font-weight="bold" fill="#a06830" textLength="12.5" lengthAdjust="spacingAndGlyphs">FAS</text>
<text x="221.1" y="653.2" font-size="8.4" font-weight="bold" fill="#a0c070" textLength="24.3" lengthAdjust="spacingAndGlyphs">IL1RAP</text>
<text x="220.0" y="661.9" font-size="8.4" font-weight="bold" fill="#4060b0" textLength="14.7" lengthAdjust="spacingAndGlyphs">CD9</text>
<text x="236.3" y="665.0" font-size="8.4" font-weight="bold" fill="#5a80a0" textLength="31.0" lengthAdjust="spacingAndGlyphs">TNFAIP6</text>
<text x="221.1" y="671.0" font-size="8.4" font-weight="bold" fill="#e09040" textLength="15.7" lengthAdjust="spacingAndGlyphs">XCL1</text>
<text x="221.0" y="677.5" font-size="8.4" font-weight="bold" fill="#f0c090" textLength="15.8" lengthAdjust="spacingAndGlyphs">FLT3</text>
<text x="237.2" y="681.9" font-size="8.4" font-weight="bold" fill="#80a8d0" textLength="12.8" lengthAdjust="spacingAndGlyphs">C4B</text>
<text x="221.0" y="683.8" font-size="8.4" font-weight="bold" fill="#3050a0" textLength="14.2" lengthAdjust="spacingAndGlyphs">EBI3</text>
<text x="221.0" y="690.8" font-size="8.4" font-weight="bold" fill="#407090" textLength="15.8" lengthAdjust="spacingAndGlyphs">CCL8</text>
<text x="221.0" y="697.5" font-size="8.4" font-weight="bold" fill="#303080" textLength="12.6" lengthAdjust="spacingAndGlyphs">C8B</text>
<text x="236.3" y="696.3" font-size="8.4" font-weight="bold" fill="#607040" textLength="21.9" lengthAdjust="spacingAndGlyphs">CCL23</text>
<text x="221.0" y="704.4" font-size="8.4" font-weight="bold" fill="#401818" textLength="21.0" lengthAdjust="spacingAndGlyphs">CCL16</text>
<text x="221.0" y="711.2" font-size="8.4" font-weight="bold" fill="#f0b060" textLength="20.0" lengthAdjust="spacingAndGlyphs">CCL11</text>
<text x="209.7" y="717.4" font-size="8.4" font-weight="bold" fill="#8898d0" textLength="21.6" lengthAdjust="spacingAndGlyphs">DEFB1</text>
<path d="M304.2 414.4V805.8H481.0" fill="none" stroke="#8c8c8c" stroke-width="1.3"/>
<path d="M300.0 414.4H304.2M300.0 512.0H304.2M300.0 610.2H304.2M300.0 708.1H304.2M300.0 805.8H304.2M304.2 805.8V809.3M363.0 805.8V809.3M421.5 805.8V809.3M481.0 805.8V809.3" fill="none" stroke="#8c8c8c" stroke-width="1.1"/>
<text x="293.8" y="420.0" font-size="10.6" text-anchor="end" font-weight="bold" fill="#1a1a1a" textLength="28.9" lengthAdjust="spacingAndGlyphs">10000</text>
<text x="293.8" y="517.6" font-size="10.6" text-anchor="end" font-weight="bold" fill="#1a1a1a" textLength="23.1" lengthAdjust="spacingAndGlyphs">1000</text>
<text x="293.8" y="615.8" font-size="10.6" text-anchor="end" font-weight="bold" fill="#1a1a1a" textLength="17.3" lengthAdjust="spacingAndGlyphs">100</text>
<text x="293.8" y="713.7" font-size="10.6" text-anchor="end" font-weight="bold" fill="#1a1a1a" textLength="11.6" lengthAdjust="spacingAndGlyphs">10</text>
<text x="293.8" y="811.4" font-size="10.6" text-anchor="end" font-weight="bold" fill="#1a1a1a" textLength="5.8" lengthAdjust="spacingAndGlyphs">1</text>
<text x="334.0" y="825.2" font-size="11.4" text-anchor="middle" fill="#1a1a1a" textLength="16.2" lengthAdjust="spacingAndGlyphs" stroke="#1a1a1a" stroke-width="0.45">Pre</text>
<text x="391.6" y="825.2" font-size="11.4" text-anchor="middle" fill="#1a1a1a" textLength="12.2" lengthAdjust="spacingAndGlyphs" stroke="#1a1a1a" stroke-width="0.45">Inf</text>
<text x="451.5" y="825.2" font-size="11.4" text-anchor="middle" fill="#1a1a1a" textLength="20.6" lengthAdjust="spacingAndGlyphs" stroke="#1a1a1a" stroke-width="0.45">Post</text>
<text x="327.1" y="392.8" font-size="12.8" font-weight="bold" fill="#111" textLength="169.1" lengthAdjust="spacingAndGlyphs">Lower expression post-infusion</text>
<g opacity="0.9" filter="url(#bl)">
<polyline points="333.4,644.8 392.3,705.5 451.0,687.0" fill="none" stroke="#c2dca2" stroke-width="1.5" stroke-linejoin="round"/>
<path d="M333.4 640.3L337.9 648.8L328.9 648.8Z" fill="#c2dca2"/>
<path d="M392.3 701.0L396.8 709.5L387.8 709.5Z" fill="#c2dca2"/>
<path d="M451.0 682.5L455.5 691.0L446.5 691.0Z" fill="#c2dca2"/>
</g>
<g opacity="0.9" filter="url(#bl)">
<polyline points="333.4,629.6 392.3,688.2 451.0,678.6" fill="none" stroke="#a8a8da" stroke-width="1.5" stroke-linejoin="round"/>
<path d="M329.4 625.6L337.4 633.6M337.4 625.6L329.4 633.6" stroke="#a8a8da" stroke-width="1.4" fill="none"/>
<path d="M388.3 684.2L396.3 692.2M396.3 684.2L388.3 692.2" stroke="#a8a8da" stroke-width="1.4" fill="none"/>
<path d="M447.0 674.6L455.0 682.6M455.0 674.6L447.0 682.6" stroke="#a8a8da" stroke-width="1.4" fill="none"/>
</g>
<g opacity="0.9" filter="url(#bl)">
<polyline points="333.4,581.0 392.3,673.7 451.0,672.3" fill="none" stroke="#f2a462" stroke-width="1.5" stroke-linejoin="round"/>
<rect x="329.4" y="577.0" width="8.0" height="8.0" fill="#f2a462"/>
<rect x="388.3" y="669.7" width="8.0" height="8.0" fill="#f2a462"/>
<rect x="447.0" y="668.3" width="8.0" height="8.0" fill="#f2a462"/>
</g>
<g opacity="0.9" filter="url(#bl)">
<polyline points="333.4,630.3 392.3,655.6 451.0,664.0" fill="none" stroke="#a82638" stroke-width="1.5" stroke-linejoin="round"/>
</g>
<g opacity="0.9" filter="url(#bl)">
<polyline points="333.4,613.7 392.3,639.0 451.0,655.4" fill="none" stroke="#e0922e" stroke-width="1.5" stroke-linejoin="round"/>
<circle cx="333.4" cy="613.7" r="4.0" fill="#e0922e"/>
<circle cx="392.3" cy="639.0" r="4.0" fill="#e0922e"/>
<circle cx="451.0" cy="655.4" r="4.0" fill="#e0922e"/>
</g>
<g opacity="0.9" filter="url(#bl)">
<polyline points="333.4,600.0 392.3,645.0 451.0,645.0" fill="none" stroke="#8a2a44" stroke-width="1.5" stroke-linejoin="round"/>
</g>
<g opacity="0.9" filter="url(#bl)">
<polyline points="333.4,649.9 392.3,644.0 451.0,698.0" fill="none" stroke="#3a3a80" stroke-width="1.5" stroke-linejoin="round"/>
<circle cx="333.4" cy="649.9" r="4.0" fill="#3a3a80"/>
<circle cx="392.3" cy="644.0" r="4.0" fill="#3a3a80"/>
<circle cx="451.0" cy="698.0" r="4.0" fill="#3a3a80"/>
</g>
<g opacity="0.9" filter="url(#bl)">
<polyline points="333.4,609.4 392.3,621.0 451.0,695.6" fill="none" stroke="#3c5cb0" stroke-width="1.5" stroke-linejoin="round"/>
<circle cx="333.4" cy="609.4" r="4.0" fill="#3c5cb0"/>
<circle cx="392.3" cy="621.0" r="4.0" fill="#3c5cb0"/>
<circle cx="451.0" cy="695.6" r="4.0" fill="#3c5cb0"/>
</g>
<g opacity="0.9" filter="url(#bl)">
<polyline points="333.4,601.5 392.3,610.8 451.0,637.0" fill="none" stroke="#74aa4a" stroke-width="1.5" stroke-linejoin="round"/>
<path d="M333.4 597.0L337.9 605.5L328.9 605.5Z" fill="#74aa4a"/>
<path d="M392.3 606.3L396.8 614.8L387.8 614.8Z" fill="#74aa4a"/>
<path d="M451.0 632.5L455.5 641.0L446.5 641.0Z" fill="#74aa4a"/>
</g>
<g opacity="0.9" filter="url(#bl)">
<polyline points="333.4,588.0 392.3,644.8 451.0,626.8" fill="none" stroke="#e6a2aa" stroke-width="1.5" stroke-linejoin="round"/>
<rect x="329.4" y="584.0" width="8.0" height="8.0" fill="#e6a2aa"/>
<rect x="388.3" y="640.8" width="8.0" height="8.0" fill="#e6a2aa"/>
<rect x="447.0" y="622.8" width="8.0" height="8.0" fill="#e6a2aa"/>
</g>
<g opacity="0.9" filter="url(#bl)">
<polyline points="333.4,569.0 392.3,618.5 451.0,607.0" fill="none" stroke="#b44452" stroke-width="1.5" stroke-linejoin="round"/>
<path d="M329.4 565.0L337.4 573.0M337.4 565.0L329.4 573.0" stroke="#b44452" stroke-width="1.4" fill="none"/>
<path d="M388.3 614.5L396.3 622.5M396.3 614.5L388.3 622.5" stroke="#b44452" stroke-width="1.4" fill="none"/>
<path d="M447.0 603.0L455.0 611.0M455.0 603.0L447.0 611.0" stroke="#b44452" stroke-width="1.4" fill="none"/>
</g>
<g opacity="0.9" filter="url(#bl)">
<polyline points="333.4,543.0 392.3,583.0 451.0,585.0" fill="none" stroke="#5e4eae" stroke-width="1.5" stroke-linejoin="round"/>
<path d="M329.4 543.0L337.4 543.0M333.4 539.0L333.4 547.0" stroke="#5e4eae" stroke-width="1.6" fill="none"/>
<path d="M388.3 583.0L396.3 583.0M392.3 579.0L392.3 587.0" stroke="#5e4eae" stroke-width="1.6" fill="none"/>
<path d="M447.0 585.0L455.0 585.0M451.0 581.0L451.0 589.0" stroke="#5e4eae" stroke-width="1.6" fill="none"/>
</g>
<g opacity="0.9" filter="url(#bl)">
<polyline points="333.4,540.0 392.3,593.8 451.0,575.0" fill="none" stroke="#f2b454" stroke-width="1.5" stroke-linejoin="round"/>
<path d="M333.4 535.5L337.9 544.0L328.9 544.0Z" fill="#f2b454"/>
<path d="M392.3 589.3L396.8 597.8L387.8 597.8Z" fill="#f2b454"/>
<path d="M451.0 570.5L455.5 579.0L446.5 579.0Z" fill="#f2b454"/>
</g>
<g opacity="0.9" filter="url(#bl)">
<polyline points="333.4,538.0 392.3,577.8 451.0,567.7" fill="none" stroke="#4c94cc" stroke-width="1.5" stroke-linejoin="round"/>
<rect x="329.4" y="534.0" width="8.0" height="8.0" fill="#4c94cc"/>
<rect x="388.3" y="573.8" width="8.0" height="8.0" fill="#4c94cc"/>
<rect x="447.0" y="563.7" width="8.0" height="8.0" fill="#4c94cc"/>
</g>
<g opacity="0.9" filter="url(#bl)">
<polyline points="333.4,534.6 392.3,548.0 451.0,615.4" fill="none" stroke="#a6cce2" stroke-width="1.5" stroke-linejoin="round"/>
<path d="M329.4 530.6L337.4 538.6M337.4 530.6L329.4 538.6" stroke="#a6cce2" stroke-width="1.4" fill="none"/>
<path d="M388.3 544.0L396.3 552.0M396.3 544.0L388.3 552.0" stroke="#a6cce2" stroke-width="1.4" fill="none"/>
<path d="M447.0 611.4L455.0 619.4M455.0 611.4L447.0 619.4" stroke="#a6cce2" stroke-width="1.4" fill="none"/>
</g>
<g opacity="0.9" filter="url(#bl)">
<polyline points="333.4,496.0 392.3,510.6 451.0,535.2" fill="none" stroke="#3c7a92" stroke-width="1.7" stroke-linejoin="round"/>
<path d="M329.4 492.0L337.4 500.0M337.4 492.0L329.4 500.0" stroke="#3c7a92" stroke-width="1.4" fill="none"/>
<path d="M388.3 506.6L396.3 514.6M396.3 506.6L388.3 514.6" stroke="#3c7a92" stroke-width="1.4" fill="none"/>
<path d="M447.0 531.2L455.0 539.2M455.0 531.2L447.0 539.2" stroke="#3c7a92" stroke-width="1.4" fill="none"/>
</g>
<g opacity="0.9" filter="url(#bl)">
<polyline points="333.4,483.0 392.3,510.6 451.0,547.5" fill="none" stroke="#f2b88a" stroke-width="1.7" stroke-linejoin="round"/>
<circle cx="333.4" cy="483.0" r="4.0" fill="#f2b88a"/>
<circle cx="392.3" cy="510.6" r="4.0" fill="#f2b88a"/>
<circle cx="451.0" cy="547.5" r="4.0" fill="#f2b88a"/>
</g>
<g opacity="0.9" filter="url(#bl)">
<polyline points="333.4,447.7 392.3,497.0 451.0,499.8" fill="none" stroke="#6ebcd6" stroke-width="1.7" stroke-linejoin="round"/>
<path d="M329.4 443.7L337.4 451.7M337.4 443.7L329.4 451.7M333.4 443.7L333.4 451.7" stroke="#6ebcd6" stroke-width="1.6" fill="none"/>
<path d="M388.3 493.0L396.3 501.0M396.3 493.0L388.3 501.0M392.3 493.0L392.3 501.0" stroke="#6ebcd6" stroke-width="1.6" fill="none"/>
<path d="M447.0 495.8L455.0 503.8M455.0 495.8L447.0 503.8M451.0 495.8L451.0 503.8" stroke="#6ebcd6" stroke-width="1.6" fill="none"/>
</g>
<g opacity="0.9" filter="url(#bl)">
<polyline points="333.4,450.8 392.3,489.8 451.0,481.5" fill="none" stroke="#6a52a2" stroke-width="1.7" stroke-linejoin="round"/>
<path d="M333.4 446.2L338.0 450.8L333.4 455.4L328.8 450.8Z" fill="#6a52a2"/>
<path d="M392.3 485.2L396.9 489.8L392.3 494.4L387.7 489.8Z" fill="#6a52a2"/>
<path d="M451.0 476.9L455.6 481.5L451.0 486.1L446.4 481.5Z" fill="#6a52a2"/>
</g>
<g opacity="0.9" filter="url(#bl)">
<polyline points="333.4,432.0 392.3,464.6 451.0,483.5" fill="none" stroke="#4a3a7e" stroke-width="1.7" stroke-linejoin="round"/>
<path d="M329.4 428.0L337.4 436.0M337.4 428.0L329.4 436.0" stroke="#4a3a7e" stroke-width="1.4" fill="none"/>
<path d="M388.3 460.6L396.3 468.6M396.3 460.6L388.3 468.6" stroke="#4a3a7e" stroke-width="1.4" fill="none"/>
<path d="M447.0 479.5L455.0 487.5M455.0 479.5L447.0 487.5" stroke="#4a3a7e" stroke-width="1.4" fill="none"/>
</g>
<g opacity="0.9" filter="url(#bl)">
<polyline points="333.4,417.5 392.3,463.7 451.0,470.5" fill="none" stroke="#5474bc" stroke-width="1.7" stroke-linejoin="round"/>
<path d="M329.4 413.5L337.4 421.5M337.4 413.5L329.4 421.5" stroke="#5474bc" stroke-width="1.4" fill="none"/>
<path d="M388.3 459.7L396.3 467.7M396.3 459.7L388.3 467.7" stroke="#5474bc" stroke-width="1.4" fill="none"/>
<path d="M447.0 466.5L455.0 474.5M455.0 466.5L447.0 474.5" stroke="#5474bc" stroke-width="1.4" fill="none"/>
</g>
<g opacity="0.9" filter="url(#bl)">
<polyline points="333.4,606.5 392.3,658.5 451.0,643.0" fill="none" stroke="#000000" stroke-width="2.9" stroke-linejoin="round"/>
</g>
<text x="456.4" y="469.9" font-size="8.4" font-weight="bold" fill="#5070b8" textLength="21.0" lengthAdjust="spacingAndGlyphs">CD74</text>
<text x="456.4" y="482.9" font-size="8.4" font-weight="bold" fill="#302860" textLength="36.2" lengthAdjust="spacingAndGlyphs">ARHGDIB</text>
<text x="456.4" y="491.3" font-size="8.4" font-weight="bold" fill="#302860" textLength="35.6" lengthAdjust="spacingAndGlyphs">HLA-DRA</text>
<text x="456.4" y="503.4" font-size="8.4" font-weight="bold" fill="#70b8d0" textLength="39.5" lengthAdjust="spacingAndGlyphs">HLA-DPA1</text>
<text x="456.4" y="539.1" font-size="8.4" font-weight="bold" fill="#3a7090" textLength="38.2" lengthAdjust="spacingAndGlyphs">HLA-DRB3</text>
<text x="456.4" y="551.1" font-size="8.4" font-weight="bold" fill="#f0b890" textLength="37.2" lengthAdjust="spacingAndGlyphs">HLA-DRB1</text>
<text x="456.4" y="570.0" font-size="8.4" font-weight="bold" fill="#4a90c8" textLength="29.1" lengthAdjust="spacingAndGlyphs">BCAP31</text>
<text x="456.4" y="578.1" font-size="8.4" font-weight="bold" fill="#f8c070" textLength="25.2" lengthAdjust="spacingAndGlyphs">ICAM2</text>
<text x="456.4" y="587.9" font-size="8.4" font-weight="bold" fill="#5a4aa0" textLength="36.2" lengthAdjust="spacingAndGlyphs">HLA-DMB</text>
<text x="456.4" y="610.6" font-size="8.4" font-weight="bold" fill="#b03040" textLength="14.5" lengthAdjust="spacingAndGlyphs">CD4</text>
<text x="456.4" y="618.7" font-size="8.4" font-weight="bold" fill="#a0c8e0" textLength="38.8" lengthAdjust="spacingAndGlyphs">HLA-DQA1</text>
<text x="456.4" y="630.1" font-size="8.4" font-weight="bold" fill="#e0a0a8" textLength="29.7" lengthAdjust="spacingAndGlyphs">POU2F2</text>
<text x="456.4" y="639.9" font-size="8.4" font-weight="bold" fill="#70902a" textLength="38.2" lengthAdjust="spacingAndGlyphs">HLA-DQB1</text>
<text x="456.4" y="647.3" font-size="8.4" font-weight="bold" fill="#902040" textLength="18.7" lengthAdjust="spacingAndGlyphs">CD86</text>
<text x="477.4" y="651.9" font-size="8.4" font-weight="bold" fill="#000000" textLength="14.6" lengthAdjust="spacingAndGlyphs">APP</text>
<text x="456.4" y="659.4" font-size="8.4" font-weight="bold" fill="#d08020" textLength="17.7" lengthAdjust="spacingAndGlyphs">LY96</text>
<text x="456.4" y="667.5" font-size="8.4" font-weight="bold" fill="#a02040" textLength="22.6" lengthAdjust="spacingAndGlyphs">NOD2</text>
<text x="456.4" y="675.6" font-size="8.4" font-weight="bold" fill="#f0a060" textLength="18.7" lengthAdjust="spacingAndGlyphs">CCR7</text>
<text x="456.4" y="683.7" font-size="8.4" font-weight="bold" fill="#9090c0" textLength="42.1" lengthAdjust="spacingAndGlyphs">TNFRSF13C</text>
<text x="456.4" y="691.9" font-size="8.4" font-weight="bold" fill="#a0d080" textLength="18.7" lengthAdjust="spacingAndGlyphs">PTK2</text>
<text x="456.4" y="699.3" font-size="8.4" font-weight="bold" fill="#3050a0" textLength="26.5" lengthAdjust="spacingAndGlyphs">MS4A1</text>
<text x="456.4" y="706.5" font-size="8.4" font-weight="bold" fill="#282860" textLength="25.8" lengthAdjust="spacingAndGlyphs">CD79A</text>
</svg>
</body></html>
